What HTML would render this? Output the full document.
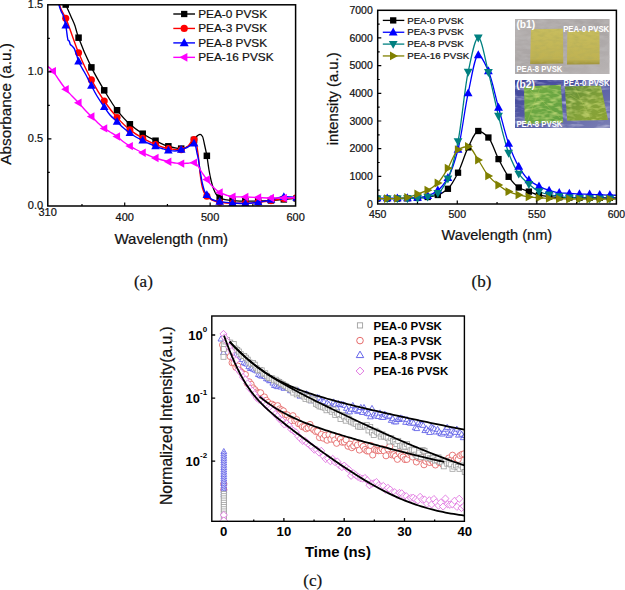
<!DOCTYPE html><html><head><meta charset="utf-8"><style>html,body{margin:0;padding:0;background:#fff;width:625px;height:590px;overflow:hidden}svg{display:block}</style></head><body>
<svg width="625" height="590" viewBox="0 0 625 590">
<defs>
<clipPath id="ca"><rect x="47.8" y="4.8" width="247.8" height="201.2"/></clipPath>
<clipPath id="cb"><rect x="377.7" y="10.3" width="238.7" height="193.7"/></clipPath>
<clipPath id="cc"><rect x="211.8" y="316" width="252.6" height="205.3"/></clipPath>
</defs>
<rect width="625" height="590" fill="#fff"/>
<g clip-path="url(#ca)" fill="none" stroke-linejoin="round">
<path d="M61.5,-4C62.17,-1.41 62.83,0.89 63.5,2C64.23,3.22 64.97,3.35 65.7,4.5C66.2,5.28 66.7,6.85 67.2,8C68.57,11.14 69.93,14.08 71.3,17.2C72.47,19.86 73.63,22.02 74.8,25.3C75.5,27.27 76.2,30.22 76.9,32.5C77.47,34.35 78.03,36.24 78.6,37.8C82.87,49.58 87.13,58.79 91.4,67.4C95.67,76.01 99.93,83.2 104.2,90.3C108.47,97.4 112.73,104.72 117,110.2C121.3,115.72 125.6,120.52 129.9,124.3C134.17,128.05 138.43,131.03 142.7,133.7C146.97,136.37 151.23,138.63 155.5,140.7C159.77,142.77 164.03,145.22 168.3,146.3C172.6,147.39 176.9,148.6 181.2,148.6C183.8,148.6 186.4,147.41 189,146C190.67,145.09 192.33,142.05 194,140C195.17,138.57 196.33,136.35 197.5,135.6C198.4,135.02 199.3,134.4 200.2,134.4C200.97,134.4 201.73,135.35 202.5,136.5C203.2,137.55 203.9,141.93 204.6,145C205.37,148.36 206.13,151.72 206.9,156C207.6,159.91 208.3,166 209,170C209.73,174.2 210.47,178.04 211.2,181C212,184.23 212.8,187.06 213.6,189.1C214.4,191.14 215.2,192.92 216,194C217.23,195.67 218.47,196.91 219.7,197.6C221.47,198.59 223.23,199.24 225,199.6C227.5,200.11 230,200.42 232.5,200.6C236.77,200.91 241.03,201.2 245.3,201.2C249.6,201.2 253.9,201.1 258.2,201C262.47,200.9 266.73,200.65 271,200.4C275.27,200.15 279.53,199.73 283.8,199.4C288.07,199.07 292.33,198.73 296.6,198.4" stroke="#000" stroke-width="1.3"/>
<rect x="49.65" y="-7.25" width="6.5" height="6.5" fill="#000"/>
<rect x="62.48" y="1.32" width="6.5" height="6.5" fill="#000"/>
<rect x="75.31" y="34.43" width="6.5" height="6.5" fill="#000"/>
<rect x="88.14" y="64.13" width="6.5" height="6.5" fill="#000"/>
<rect x="100.97" y="87.08" width="6.5" height="6.5" fill="#000"/>
<rect x="113.8" y="107" width="6.5" height="6.5" fill="#000"/>
<rect x="126.63" y="121.03" width="6.5" height="6.5" fill="#000"/>
<rect x="139.46" y="130.46" width="6.5" height="6.5" fill="#000"/>
<rect x="152.29" y="137.47" width="6.5" height="6.5" fill="#000"/>
<rect x="165.12" y="143.06" width="6.5" height="6.5" fill="#000"/>
<rect x="177.95" y="145.35" width="6.5" height="6.5" fill="#000"/>
<rect x="190.78" y="136.71" width="6.5" height="6.5" fill="#000"/>
<rect x="203.61" y="152.56" width="6.5" height="6.5" fill="#000"/>
<rect x="216.44" y="194.34" width="6.5" height="6.5" fill="#000"/>
<rect x="229.27" y="197.35" width="6.5" height="6.5" fill="#000"/>
<rect x="242.1" y="197.95" width="6.5" height="6.5" fill="#000"/>
<rect x="254.93" y="197.75" width="6.5" height="6.5" fill="#000"/>
<rect x="267.76" y="197.15" width="6.5" height="6.5" fill="#000"/>
<rect x="280.59" y="196.15" width="6.5" height="6.5" fill="#000"/>
<rect x="293.42" y="195.15" width="6.5" height="6.5" fill="#000"/>
<path d="M57.8,-4C58.37,-0.61 58.93,3.14 59.5,5C61.57,11.8 63.63,13.28 65.7,18.1C70,28.14 74.3,42.61 78.6,52.8C82.87,62.91 87.13,71.99 91.4,79.9C95.67,87.81 99.93,94.85 104.2,101C108.47,107.15 112.73,112.69 117,117.4C121.3,122.15 125.6,126.56 129.9,129.9C134.17,133.21 138.43,135.81 142.7,138.2C146.97,140.59 151.23,142.84 155.5,144.5C159.77,146.16 164.03,147.98 168.3,148.6C172.6,149.22 176.9,149.8 181.2,149.8C183.47,149.8 185.73,147.68 188,146C190,144.52 192,139.5 194,139.5C194.67,139.5 195.33,140.64 196,142C196.73,143.5 197.47,149.65 198.2,155C198.93,160.35 199.67,170.77 200.4,176C201.1,180.99 201.8,185.54 202.5,188C203.3,190.81 204.1,192.79 204.9,194C205.57,195.01 206.23,195.59 206.9,196.2C208.6,197.75 210.3,199.25 212,200C214.57,201.13 217.13,201.99 219.7,202.3C223.97,202.81 228.23,203.14 232.5,203.2C236.77,203.26 241.03,203.3 245.3,203.3C249.6,203.3 253.9,202.72 258.2,202.3C262.47,201.88 266.73,201.21 271,200.6C275.27,199.99 279.53,198.98 283.8,198.6C288.07,198.22 292.33,197.87 296.6,197.8" stroke="#f00" stroke-width="1.4"/>
<circle cx="52.9" cy="-4" r="3.55" fill="#f00"/>
<circle cx="65.73" cy="18.18" r="3.55" fill="#f00"/>
<circle cx="78.56" cy="52.69" r="3.55" fill="#f00"/>
<circle cx="91.39" cy="79.88" r="3.55" fill="#f00"/>
<circle cx="104.22" cy="101.03" r="3.55" fill="#f00"/>
<circle cx="117.05" cy="117.45" r="3.55" fill="#f00"/>
<circle cx="129.88" cy="129.88" r="3.55" fill="#f00"/>
<circle cx="142.71" cy="138.2" r="3.55" fill="#f00"/>
<circle cx="155.54" cy="144.51" r="3.55" fill="#f00"/>
<circle cx="168.37" cy="148.61" r="3.55" fill="#f00"/>
<circle cx="181.2" cy="149.8" r="3.55" fill="#f00"/>
<circle cx="194.03" cy="139.54" r="3.55" fill="#f00"/>
<circle cx="206.86" cy="196.16" r="3.55" fill="#f00"/>
<circle cx="219.69" cy="202.3" r="3.55" fill="#f00"/>
<circle cx="232.52" cy="203.2" r="3.55" fill="#f00"/>
<circle cx="245.35" cy="203.3" r="3.55" fill="#f00"/>
<circle cx="258.18" cy="202.3" r="3.55" fill="#f00"/>
<circle cx="271.01" cy="200.6" r="3.55" fill="#f00"/>
<circle cx="283.84" cy="198.6" r="3.55" fill="#f00"/>
<circle cx="296.67" cy="197.8" r="3.55" fill="#f00"/>
<path d="M57.3,-4C57.87,-0.4 58.43,2.81 59,5C59.67,7.57 60.33,9.4 61,11C61.67,12.6 62.33,13.28 63,15C63.9,17.32 64.8,20.72 65.7,25.2C66,26.69 66.3,28.92 66.6,31C66.87,32.85 67.13,35.42 67.4,37C67.6,38.19 67.8,39.69 68,40C68.4,40.62 68.8,40.47 69.2,41C69.57,41.49 69.93,44.01 70.3,44.5C70.7,45.03 71.1,45.14 71.5,45.5C72,45.95 72.5,46.43 73,47C73.43,47.49 73.87,47.93 74.3,48.7C74.7,49.41 75.1,50.91 75.5,52C75.93,53.18 76.37,54.21 76.8,55.5C77.4,57.29 78,60.1 78.6,61.6C79.73,64.43 80.87,65.94 82,68C83.33,70.42 84.67,72.53 86,75C87.8,78.34 89.6,82.27 91.4,85.7C93.27,89.26 95.13,92.87 97,96C99.4,100.02 101.8,103.53 104.2,107C106.13,109.8 108.07,112.82 110,115C112.33,117.63 114.67,119.35 117,121.6C119,123.53 121,125.73 123,127.5C125.3,129.53 127.6,131.35 129.9,133C131.93,134.46 133.97,135.85 136,137C138.23,138.26 140.47,139.18 142.7,140.3C144.8,141.35 146.9,142.56 149,143.5C151.17,144.47 153.33,145.27 155.5,146.1C157.67,146.93 159.83,147.8 162,148.5C164.1,149.18 166.2,149.98 168.3,150.3C170.53,150.64 172.77,151 175,151C177.07,151 179.13,150.26 181.2,149.7C183.13,149.18 185.07,148.38 187,147.5C189.33,146.43 191.67,143.4 194,143.4C194.6,143.4 195.2,145.24 195.8,147C196.2,148.18 196.6,151.11 197,153C197.4,154.89 197.8,156.31 198.2,158.4C198.8,161.54 199.4,166.39 200,170C200.83,175.01 201.67,180.44 202.5,184C203.17,186.85 203.83,189.5 204.5,191C205.3,192.8 206.1,193.94 206.9,194.9C208.6,196.94 210.3,198.76 212,199.5C214.57,200.62 217.13,201.18 219.7,201.6C223.97,202.29 228.23,202.75 232.5,203C236.77,203.25 241.03,203.5 245.3,203.5C249.6,203.5 253.9,202.77 258.2,202.2C262.47,201.63 266.73,200.6 271,199.7C275.27,198.8 279.53,196.8 283.8,196.8C288.07,196.8 292.33,196.8 296.6,197.6" stroke="#00f" stroke-width="1.4"/>
<path d="M52.9,-8.64 L57.2,-0.9 L48.6,-0.9 Z" fill="#00f"/>
<path d="M65.73,20.75 L70.03,28.49 L61.43,28.49 Z" fill="#00f"/>
<path d="M78.56,56.82 L82.86,64.56 L74.26,64.56 Z" fill="#00f"/>
<path d="M91.39,81.04 L95.69,88.78 L87.09,88.78 Z" fill="#00f"/>
<path d="M104.22,102.38 L108.52,110.12 L99.92,110.12 Z" fill="#00f"/>
<path d="M117.05,117.01 L121.35,124.75 L112.75,124.75 Z" fill="#00f"/>
<path d="M129.88,128.34 L134.18,136.08 L125.58,136.08 Z" fill="#00f"/>
<path d="M142.71,135.66 L147.01,143.4 L138.41,143.4 Z" fill="#00f"/>
<path d="M155.54,141.47 L159.84,149.21 L151.24,149.21 Z" fill="#00f"/>
<path d="M168.37,145.66 L172.67,153.4 L164.07,153.4 Z" fill="#00f"/>
<path d="M181.2,145.06 L185.5,152.8 L176.9,152.8 Z" fill="#00f"/>
<path d="M194.03,138.82 L198.33,146.56 L189.73,146.56 Z" fill="#00f"/>
<path d="M206.86,190.19 L211.16,197.93 L202.56,197.93 Z" fill="#00f"/>
<path d="M219.69,196.95 L223.99,204.69 L215.39,204.69 Z" fill="#00f"/>
<path d="M232.52,198.36 L236.82,206.1 L228.22,206.1 Z" fill="#00f"/>
<path d="M245.35,198.85 L249.65,206.59 L241.05,206.59 Z" fill="#00f"/>
<path d="M258.18,197.56 L262.48,205.3 L253.88,205.3 Z" fill="#00f"/>
<path d="M271.01,195.05 L275.31,202.79 L266.71,202.79 Z" fill="#00f"/>
<path d="M283.84,192.16 L288.14,199.9 L279.54,199.9 Z" fill="#00f"/>
<path d="M296.67,192.96 L300.97,200.7 L292.37,200.7 Z" fill="#00f"/>
<path d="M47.8,66.4C49.5,67.55 51.2,69.19 52.9,71.1C54.93,73.38 56.97,77.12 59,80C61.23,83.16 63.47,86.5 65.7,89.2C67.8,91.74 69.9,93.79 72,96C74.2,98.32 76.4,100.43 78.6,102.8C80.73,105.1 82.87,107.72 85,110C87.13,112.28 89.27,114.37 91.4,116.5C93.43,118.53 95.47,120.61 97.5,122.5C99.73,124.58 101.97,126.78 104.2,128.4C106.13,129.8 108.07,130.78 110,132C112.33,133.47 114.67,134.8 117,136.5C119,137.96 121,140.01 123,141.5C125.3,143.21 127.6,144.71 129.9,146.1C131.93,147.33 133.97,148.44 136,149.5C138.23,150.67 140.47,151.78 142.7,152.8C144.8,153.76 146.9,154.65 149,155.5C151.17,156.38 153.33,157.26 155.5,158C157.67,158.74 159.83,159.38 162,160C164.1,160.6 166.2,161.23 168.3,161.7C170.53,162.21 172.77,162.71 175,163C177.07,163.27 179.13,163.6 181.2,163.6C183.47,163.6 185.73,163.37 188,163.2C190,163.05 192,162.6 194,162.6C195.33,162.6 196.67,164.48 198,166C199,167.14 200,169.42 201,171C202,172.58 203,174.04 204,175.5C204.97,176.91 205.93,178.33 206.9,179.6C208.93,182.28 210.97,185.02 213,187C215.23,189.17 217.47,191.18 219.7,192.4C221.8,193.54 223.9,194.35 226,195C228.17,195.67 230.33,196.47 232.5,196.6C236.77,196.86 241.03,196.85 245.3,197C249.6,197.15 253.9,197.33 258.2,197.5C262.47,197.67 266.73,198 271,198C275.27,198 279.53,198 283.8,198C288.07,198 292.33,197.75 296.6,197.5" stroke="#f0f" stroke-width="1.4"/>
<path d="M48.36,71.1 L55.92,66.9 L55.92,75.3 Z" fill="#f0f"/>
<path d="M61.19,89.23 L68.75,85.03 L68.75,93.43 Z" fill="#f0f"/>
<path d="M74.02,102.76 L81.58,98.56 L81.58,106.96 Z" fill="#f0f"/>
<path d="M86.85,116.49 L94.41,112.29 L94.41,120.69 Z" fill="#f0f"/>
<path d="M99.68,128.41 L107.24,124.21 L107.24,132.61 Z" fill="#f0f"/>
<path d="M112.51,136.54 L120.07,132.34 L120.07,140.74 Z" fill="#f0f"/>
<path d="M125.34,146.09 L132.9,141.89 L132.9,150.29 Z" fill="#f0f"/>
<path d="M138.17,152.8 L145.73,148.6 L145.73,157 Z" fill="#f0f"/>
<path d="M151,158.01 L158.56,153.81 L158.56,162.21 Z" fill="#f0f"/>
<path d="M163.83,161.71 L171.39,157.51 L171.39,165.91 Z" fill="#f0f"/>
<path d="M176.66,163.6 L184.22,159.4 L184.22,167.8 Z" fill="#f0f"/>
<path d="M189.49,162.63 L197.05,158.43 L197.05,166.83 Z" fill="#f0f"/>
<path d="M202.32,179.54 L209.88,175.34 L209.88,183.74 Z" fill="#f0f"/>
<path d="M215.15,192.39 L222.71,188.19 L222.71,196.59 Z" fill="#f0f"/>
<path d="M227.98,196.6 L235.54,192.4 L235.54,200.8 Z" fill="#f0f"/>
<path d="M240.81,197 L248.37,192.8 L248.37,201.2 Z" fill="#f0f"/>
<path d="M253.64,197.5 L261.2,193.3 L261.2,201.7 Z" fill="#f0f"/>
<path d="M266.47,198 L274.03,193.8 L274.03,202.2 Z" fill="#f0f"/>
<path d="M279.3,198 L286.86,193.8 L286.86,202.2 Z" fill="#f0f"/>
<path d="M292.13,197.5 L299.69,193.3 L299.69,201.7 Z" fill="#f0f"/>
</g>
<rect x="47.8" y="4.8" width="247.8" height="201.2" fill="none" stroke="#000" stroke-width="1.5"/>
<path d="M124.7,206 v-3.6 M210.15,206 v-3.6 M81.98,206 v-2 M167.43,206 v-2 M252.88,206 v-2 M47.8,138.93 h3.6 M47.8,71.87 h3.6 M47.8,172.47 h2 M47.8,105.4 h2 M47.8,38.33 h2" stroke="#000" stroke-width="1.2" fill="none"/>
<g font-family='"Liberation Sans", sans-serif' font-size="11" fill="#111" stroke="#111" stroke-width="0.22">
<text x="43.1" y="8.1" text-anchor="end">1.5</text>
<text x="43.1" y="75.17" text-anchor="end">1.0</text>
<text x="43.1" y="142.23" text-anchor="end">0.5</text>
<text x="43.1" y="209.3" text-anchor="end">0.0</text>
<text x="47.6" y="216.3" text-anchor="middle">310</text>
<text x="124.7" y="220.9" text-anchor="middle">400</text>
<text x="210.15" y="220.9" text-anchor="middle">500</text>
<text x="295.6" y="220.9" text-anchor="middle">600</text>
</g>
<text x="171.3" y="243.6" text-anchor="middle" font-family='"Liberation Sans", sans-serif' font-size="15" fill="#111" stroke="#111" stroke-width="0.22">Wavelength (nm)</text>
<text transform="translate(11.3,103.9) rotate(-90)" text-anchor="middle" font-family='"Liberation Sans", sans-serif' font-size="15.3" fill="#111" stroke="#111" stroke-width="0.22">Absorbance (a.u.)</text>
<path d="M173.3,14 H195" stroke="#000" stroke-width="1.4"/>
<rect x="181.05" y="10.85" width="6.3" height="6.3" fill="#000"/>
<text x="198.2" y="17.9" font-family='"Liberation Sans", sans-serif' font-size="11.8" fill="#111" stroke="#111" stroke-width="0.22">PEA-0 PVSK</text>
<path d="M173.3,28.45 H195" stroke="#f00" stroke-width="1.4"/>
<circle cx="184.2" cy="28.45" r="3.6" fill="#f00"/>
<text x="198.2" y="32.35" font-family='"Liberation Sans", sans-serif' font-size="11.8" fill="#111" stroke="#111" stroke-width="0.22">PEA-3 PVSK</text>
<path d="M173.3,42.9 H195" stroke="#00f" stroke-width="1.4"/>
<path d="M184.2,38.04 L188.7,46.14 L179.7,46.14 Z" fill="#00f"/>
<text x="198.2" y="46.8" font-family='"Liberation Sans", sans-serif' font-size="11.8" fill="#111" stroke="#111" stroke-width="0.22">PEA-8 PVSK</text>
<path d="M173.3,57.35 H195" stroke="#f0f" stroke-width="1.4"/>
<path d="M179.45,57.35 L187.37,52.95 L187.37,61.75 Z" fill="#f0f"/>
<text x="198.2" y="61.25" font-family='"Liberation Sans", sans-serif' font-size="11.8" fill="#111" stroke="#111" stroke-width="0.22">PEA-16 PVSK</text>
<g clip-path="url(#cb)" fill="none" stroke-linejoin="round">
<path d="M366.96,198.6C370.33,198.6 373.71,198.6 377.08,198.6C380.45,198.6 383.83,198.6 387.2,198.6C390.57,198.6 393.95,198.6 397.32,198.6C400.69,198.6 404.07,198.41 407.44,198.3C410.81,198.19 414.19,198.08 417.56,197.9C420.93,197.72 424.31,197.41 427.68,197C431.05,196.59 434.43,196.01 437.8,195C441.17,193.99 444.55,191.78 447.92,188.8C451.29,185.82 454.67,179.26 458.04,172.7C461.41,166.14 464.79,154.03 468.16,147.4C471.53,140.77 474.91,131 478.28,131C481.65,131 485.03,134.17 488.4,137.5C491.77,140.83 495.15,152.61 498.52,159.1C501.89,165.59 505.27,172.35 508.64,176.8C512.01,181.25 515.39,185.52 518.76,187.5C522.13,189.48 525.51,190.32 528.88,191.6C532.25,192.88 535.63,194.53 539,195.2C542.37,195.87 545.75,196.29 549.12,196.6C552.49,196.91 555.87,197.16 559.24,197.3C562.61,197.44 565.99,197.52 569.36,197.6C572.73,197.68 576.11,197.8 579.48,197.8C582.85,197.8 586.23,197.8 589.6,197.8C592.97,197.8 596.35,197.8 599.72,197.8C603.09,197.8 606.47,197.8 609.84,197.8C613.21,197.8 616.59,197.8 619.96,197.8" stroke="#000" stroke-width="1.3"/>
<path d="M366.96,198.2C370.33,198.2 373.71,198.2 377.08,198.2C380.45,198.2 383.83,198.2 387.2,198.2C390.57,198.2 393.95,198.2 397.32,198.2C400.69,198.2 404.07,198.16 407.44,198.1C410.81,198.04 414.19,197.86 417.56,197.6C420.93,197.34 424.31,196.71 427.68,195.8C431.05,194.89 434.43,192.77 437.8,190.2C441.17,187.63 444.55,183.55 447.92,177.8C451.29,172.05 454.67,162.06 458.04,149.5C461.41,136.94 464.79,108.37 468.16,93.2C471.53,78.03 474.91,55 478.28,55C481.65,55 485.03,63.66 488.4,71.1C491.77,78.54 495.15,95.4 498.52,107.5C501.89,119.6 505.27,134.35 508.64,143.7C512.01,153.05 515.39,160.94 518.76,166.6C522.13,172.26 525.51,177.27 528.88,180.1C532.25,182.93 535.63,184.65 539,186.3C542.37,187.95 545.75,189.39 549.12,190.4C552.49,191.41 555.87,192.48 559.24,192.8C562.61,193.12 565.99,193.18 569.36,193.4C572.73,193.62 576.11,194 579.48,194.1C582.85,194.2 586.23,194.21 589.6,194.3C592.97,194.39 596.35,194.57 599.72,194.7C603.09,194.83 606.47,195.01 609.84,195.1C613.21,195.19 616.59,195.27 619.96,195.3" stroke="#00f" stroke-width="1.3"/>
<path d="M366.96,198.6C370.33,198.6 373.71,198.6 377.08,198.6C380.45,198.6 383.83,198.6 387.2,198.6C390.57,198.6 393.95,198.6 397.32,198.6C400.69,198.6 404.07,198.55 407.44,198.5C410.81,198.45 414.19,198.36 417.56,198.2C420.93,198.04 424.31,197.48 427.68,196.8C431.05,196.12 434.43,195.06 437.8,193.1C441.17,191.14 444.55,185.63 447.92,178.7C451.29,171.77 454.67,157.5 458.04,141.3C461.41,125.1 464.79,87.17 468.16,71.9C471.53,56.63 474.91,37.7 478.28,37.7C481.65,37.7 485.03,59.33 488.4,72.2C491.77,85.07 495.15,102.63 498.52,116C501.89,129.37 505.27,144.12 508.64,153C512.01,161.88 515.39,169.18 518.76,173.8C522.13,178.42 525.51,181.34 528.88,184.2C532.25,187.06 535.63,190.05 539,191.5C542.37,192.95 545.75,193.87 549.12,194.6C552.49,195.33 555.87,195.81 559.24,196.3C562.61,196.79 565.99,197.33 569.36,197.6C572.73,197.87 576.11,198.07 579.48,198.2C582.85,198.33 586.23,198.45 589.6,198.5C592.97,198.55 596.35,198.57 599.72,198.6C603.09,198.63 606.47,198.7 609.84,198.7C613.21,198.7 616.59,198.7 619.96,198.7" stroke="#008080" stroke-width="1.3"/>
<path d="M366.96,198.6C370.33,198.6 373.71,198.6 377.08,198.6C380.45,198.6 383.83,198.6 387.2,198.6C390.57,198.6 393.95,198.51 397.32,198.4C400.69,198.29 404.07,197.85 407.44,197.3C410.81,196.75 414.19,195.18 417.56,194C420.93,192.82 424.31,191.86 427.68,190.2C431.05,188.54 434.43,186.23 437.8,183C441.17,179.77 444.55,173.68 447.92,168.2C451.29,162.72 454.67,151.52 458.04,149.7C461.41,147.88 464.79,146.5 468.16,146.5C471.53,146.5 474.91,155.13 478.28,160C481.65,164.87 485.03,172.04 488.4,175.9C491.77,179.76 495.15,182.45 498.52,185C501.89,187.55 505.27,190.13 508.64,191.6C512.01,193.07 515.39,194.07 518.76,194.9C522.13,195.73 525.51,196.49 528.88,196.9C532.25,197.31 535.63,197.56 539,197.8C542.37,198.04 545.75,198.24 549.12,198.4C552.49,198.56 555.87,198.71 559.24,198.8C562.61,198.89 565.99,198.96 569.36,199C572.73,199.04 576.11,199.07 579.48,199.1C582.85,199.13 586.23,199.2 589.6,199.2C592.97,199.2 596.35,199.2 599.72,199.2C603.09,199.2 606.47,199.2 609.84,199.2C613.21,199.2 616.59,199.2 619.96,199.2" stroke="#808000" stroke-width="1.3"/>
<rect x="373.93" y="195.45" width="6.3" height="6.3" fill="#000"/>
<rect x="384.05" y="195.45" width="6.3" height="6.3" fill="#000"/>
<rect x="394.17" y="195.45" width="6.3" height="6.3" fill="#000"/>
<rect x="404.29" y="195.15" width="6.3" height="6.3" fill="#000"/>
<rect x="414.41" y="194.75" width="6.3" height="6.3" fill="#000"/>
<rect x="424.53" y="193.85" width="6.3" height="6.3" fill="#000"/>
<rect x="434.65" y="191.85" width="6.3" height="6.3" fill="#000"/>
<rect x="444.77" y="185.65" width="6.3" height="6.3" fill="#000"/>
<rect x="454.89" y="169.55" width="6.3" height="6.3" fill="#000"/>
<rect x="465.01" y="144.25" width="6.3" height="6.3" fill="#000"/>
<rect x="475.13" y="127.85" width="6.3" height="6.3" fill="#000"/>
<rect x="485.25" y="134.35" width="6.3" height="6.3" fill="#000"/>
<rect x="495.37" y="155.95" width="6.3" height="6.3" fill="#000"/>
<rect x="505.49" y="173.65" width="6.3" height="6.3" fill="#000"/>
<rect x="515.61" y="184.35" width="6.3" height="6.3" fill="#000"/>
<rect x="525.73" y="188.45" width="6.3" height="6.3" fill="#000"/>
<rect x="535.85" y="192.05" width="6.3" height="6.3" fill="#000"/>
<rect x="545.97" y="193.45" width="6.3" height="6.3" fill="#000"/>
<rect x="556.09" y="194.15" width="6.3" height="6.3" fill="#000"/>
<rect x="566.21" y="194.45" width="6.3" height="6.3" fill="#000"/>
<rect x="576.33" y="194.65" width="6.3" height="6.3" fill="#000"/>
<rect x="586.45" y="194.65" width="6.3" height="6.3" fill="#000"/>
<rect x="596.57" y="194.65" width="6.3" height="6.3" fill="#000"/>
<rect x="606.69" y="194.65" width="6.3" height="6.3" fill="#000"/>
<rect x="616.81" y="194.65" width="6.3" height="6.3" fill="#000"/>
<path d="M377.08,193.45 L381.48,201.37 L372.68,201.37 Z" fill="#00f"/>
<path d="M387.2,193.45 L391.6,201.37 L382.8,201.37 Z" fill="#00f"/>
<path d="M397.32,193.45 L401.72,201.37 L392.92,201.37 Z" fill="#00f"/>
<path d="M407.44,193.35 L411.84,201.27 L403.04,201.27 Z" fill="#00f"/>
<path d="M417.56,192.85 L421.96,200.77 L413.16,200.77 Z" fill="#00f"/>
<path d="M427.68,191.05 L432.08,198.97 L423.28,198.97 Z" fill="#00f"/>
<path d="M437.8,185.45 L442.2,193.37 L433.4,193.37 Z" fill="#00f"/>
<path d="M447.92,173.05 L452.32,180.97 L443.52,180.97 Z" fill="#00f"/>
<path d="M458.04,144.75 L462.44,152.67 L453.64,152.67 Z" fill="#00f"/>
<path d="M468.16,88.45 L472.56,96.37 L463.76,96.37 Z" fill="#00f"/>
<path d="M478.28,50.25 L482.68,58.17 L473.88,58.17 Z" fill="#00f"/>
<path d="M488.4,66.35 L492.8,74.27 L484,74.27 Z" fill="#00f"/>
<path d="M498.52,102.75 L502.92,110.67 L494.12,110.67 Z" fill="#00f"/>
<path d="M508.64,138.95 L513.04,146.87 L504.24,146.87 Z" fill="#00f"/>
<path d="M518.76,161.85 L523.16,169.77 L514.36,169.77 Z" fill="#00f"/>
<path d="M528.88,175.35 L533.28,183.27 L524.48,183.27 Z" fill="#00f"/>
<path d="M539,181.55 L543.4,189.47 L534.6,189.47 Z" fill="#00f"/>
<path d="M549.12,185.65 L553.52,193.57 L544.72,193.57 Z" fill="#00f"/>
<path d="M559.24,188.05 L563.64,195.97 L554.84,195.97 Z" fill="#00f"/>
<path d="M569.36,188.65 L573.76,196.57 L564.96,196.57 Z" fill="#00f"/>
<path d="M579.48,189.35 L583.88,197.27 L575.08,197.27 Z" fill="#00f"/>
<path d="M589.6,189.55 L594,197.47 L585.2,197.47 Z" fill="#00f"/>
<path d="M599.72,189.95 L604.12,197.87 L595.32,197.87 Z" fill="#00f"/>
<path d="M609.84,190.35 L614.24,198.27 L605.44,198.27 Z" fill="#00f"/>
<path d="M619.96,190.55 L624.36,198.47 L615.56,198.47 Z" fill="#00f"/>
<path d="M377.08,203.35 L381.48,195.43 L372.68,195.43 Z" fill="#008080"/>
<path d="M387.2,203.35 L391.6,195.43 L382.8,195.43 Z" fill="#008080"/>
<path d="M397.32,203.35 L401.72,195.43 L392.92,195.43 Z" fill="#008080"/>
<path d="M407.44,203.25 L411.84,195.33 L403.04,195.33 Z" fill="#008080"/>
<path d="M417.56,202.95 L421.96,195.03 L413.16,195.03 Z" fill="#008080"/>
<path d="M427.68,201.55 L432.08,193.63 L423.28,193.63 Z" fill="#008080"/>
<path d="M437.8,197.85 L442.2,189.93 L433.4,189.93 Z" fill="#008080"/>
<path d="M447.92,183.45 L452.32,175.53 L443.52,175.53 Z" fill="#008080"/>
<path d="M458.04,146.05 L462.44,138.13 L453.64,138.13 Z" fill="#008080"/>
<path d="M468.16,76.65 L472.56,68.73 L463.76,68.73 Z" fill="#008080"/>
<path d="M478.28,42.45 L482.68,34.53 L473.88,34.53 Z" fill="#008080"/>
<path d="M488.4,76.95 L492.8,69.03 L484,69.03 Z" fill="#008080"/>
<path d="M498.52,120.75 L502.92,112.83 L494.12,112.83 Z" fill="#008080"/>
<path d="M508.64,157.75 L513.04,149.83 L504.24,149.83 Z" fill="#008080"/>
<path d="M518.76,178.55 L523.16,170.63 L514.36,170.63 Z" fill="#008080"/>
<path d="M528.88,188.95 L533.28,181.03 L524.48,181.03 Z" fill="#008080"/>
<path d="M539,196.25 L543.4,188.33 L534.6,188.33 Z" fill="#008080"/>
<path d="M549.12,199.35 L553.52,191.43 L544.72,191.43 Z" fill="#008080"/>
<path d="M559.24,201.05 L563.64,193.13 L554.84,193.13 Z" fill="#008080"/>
<path d="M569.36,202.35 L573.76,194.43 L564.96,194.43 Z" fill="#008080"/>
<path d="M579.48,202.95 L583.88,195.03 L575.08,195.03 Z" fill="#008080"/>
<path d="M589.6,203.25 L594,195.33 L585.2,195.33 Z" fill="#008080"/>
<path d="M599.72,203.35 L604.12,195.43 L595.32,195.43 Z" fill="#008080"/>
<path d="M609.84,203.45 L614.24,195.53 L605.44,195.53 Z" fill="#008080"/>
<path d="M619.96,203.45 L624.36,195.53 L615.56,195.53 Z" fill="#008080"/>
<path d="M381.83,198.6 L373.91,194.2 L373.91,203 Z" fill="#808000"/>
<path d="M391.95,198.6 L384.03,194.2 L384.03,203 Z" fill="#808000"/>
<path d="M402.07,198.4 L394.15,194 L394.15,202.8 Z" fill="#808000"/>
<path d="M412.19,197.3 L404.27,192.9 L404.27,201.7 Z" fill="#808000"/>
<path d="M422.31,194 L414.39,189.6 L414.39,198.4 Z" fill="#808000"/>
<path d="M432.43,190.2 L424.51,185.8 L424.51,194.6 Z" fill="#808000"/>
<path d="M442.55,183 L434.63,178.6 L434.63,187.4 Z" fill="#808000"/>
<path d="M452.67,168.2 L444.75,163.8 L444.75,172.6 Z" fill="#808000"/>
<path d="M462.79,149.7 L454.87,145.3 L454.87,154.1 Z" fill="#808000"/>
<path d="M472.91,146.5 L464.99,142.1 L464.99,150.9 Z" fill="#808000"/>
<path d="M483.03,160 L475.11,155.6 L475.11,164.4 Z" fill="#808000"/>
<path d="M493.15,175.9 L485.23,171.5 L485.23,180.3 Z" fill="#808000"/>
<path d="M503.27,185 L495.35,180.6 L495.35,189.4 Z" fill="#808000"/>
<path d="M513.39,191.6 L505.47,187.2 L505.47,196 Z" fill="#808000"/>
<path d="M523.51,194.9 L515.59,190.5 L515.59,199.3 Z" fill="#808000"/>
<path d="M533.63,196.9 L525.71,192.5 L525.71,201.3 Z" fill="#808000"/>
<path d="M543.75,197.8 L535.83,193.4 L535.83,202.2 Z" fill="#808000"/>
<path d="M553.87,198.4 L545.95,194 L545.95,202.8 Z" fill="#808000"/>
<path d="M563.99,198.8 L556.07,194.4 L556.07,203.2 Z" fill="#808000"/>
<path d="M574.11,199 L566.19,194.6 L566.19,203.4 Z" fill="#808000"/>
<path d="M584.23,199.1 L576.31,194.7 L576.31,203.5 Z" fill="#808000"/>
<path d="M594.35,199.2 L586.43,194.8 L586.43,203.6 Z" fill="#808000"/>
<path d="M604.47,199.2 L596.55,194.8 L596.55,203.6 Z" fill="#808000"/>
<path d="M614.59,199.2 L606.67,194.8 L606.67,203.6 Z" fill="#808000"/>
<path d="M624.71,199.2 L616.79,194.8 L616.79,203.6 Z" fill="#808000"/>
</g>
<rect x="377.7" y="10.3" width="238.7" height="193.7" fill="none" stroke="#000" stroke-width="1.5"/>
<path d="M457.27,204 v-3.6 M536.83,204 v-3.6 M417.48,204 v-2 M497.05,204 v-2 M576.62,204 v-2 M377.7,176.33 h3.6 M377.7,148.66 h3.6 M377.7,120.99 h3.6 M377.7,93.31 h3.6 M377.7,65.64 h3.6 M377.7,37.97 h3.6 M377.7,190.16 h2 M377.7,162.49 h2 M377.7,134.82 h2 M377.7,107.15 h2 M377.7,79.48 h2 M377.7,51.81 h2 M377.7,24.14 h2" stroke="#000" stroke-width="1.2" fill="none"/>
<g font-family='"Liberation Sans", sans-serif' font-size="10.5" fill="#111" stroke="#111" stroke-width="0.22">
<text x="372.8" y="207.7" text-anchor="end">0</text>
<text x="372.8" y="180.03" text-anchor="end">1000</text>
<text x="372.8" y="152.36" text-anchor="end">2000</text>
<text x="372.8" y="124.69" text-anchor="end">3000</text>
<text x="372.8" y="97.01" text-anchor="end">4000</text>
<text x="372.8" y="69.34" text-anchor="end">5000</text>
<text x="372.8" y="41.67" text-anchor="end">6000</text>
<text x="372.8" y="14" text-anchor="end">7000</text>
<text x="377.7" y="218" text-anchor="middle">450</text>
<text x="457.27" y="218" text-anchor="middle">500</text>
<text x="536.83" y="218" text-anchor="middle">550</text>
<text x="616.4" y="218" text-anchor="middle">600</text>
</g>
<text x="496.9" y="239.5" text-anchor="middle" font-family='"Liberation Sans", sans-serif' font-size="14.6" fill="#111" stroke="#111" stroke-width="0.22">Wavelength (nm)</text>
<text transform="translate(338.4,98.9) rotate(-90)" text-anchor="middle" font-family='"Liberation Sans", sans-serif' font-size="14.8" fill="#111" stroke="#111" stroke-width="0.22">intensity (a.u.)</text>
<path d="M382.8,20.4 H404.3" stroke="#000" stroke-width="1.3"/>
<rect x="390.05" y="17.25" width="6.3" height="6.3" fill="#000"/>
<text x="407.2" y="23.5" font-family='"Liberation Sans", sans-serif' font-size="9.7" fill="#111" stroke="#111" stroke-width="0.22">PEA-0 PVSK</text>
<path d="M382.8,32.25 H404.3" stroke="#00f" stroke-width="1.3"/>
<path d="M393.2,27.5 L397.6,35.42 L388.8,35.42 Z" fill="#00f"/>
<text x="407.2" y="35.35" font-family='"Liberation Sans", sans-serif' font-size="9.7" fill="#111" stroke="#111" stroke-width="0.22">PEA-3 PVSK</text>
<path d="M382.8,44.1 H404.3" stroke="#008080" stroke-width="1.3"/>
<path d="M393.2,48.85 L397.6,40.93 L388.8,40.93 Z" fill="#008080"/>
<text x="407.2" y="47.2" font-family='"Liberation Sans", sans-serif' font-size="9.7" fill="#111" stroke="#111" stroke-width="0.22">PEA-8 PVSK</text>
<path d="M382.8,55.95 H404.3" stroke="#808000" stroke-width="1.3"/>
<path d="M397.95,55.95 L390.03,51.55 L390.03,60.35 Z" fill="#808000"/>
<text x="407.2" y="59.05" font-family='"Liberation Sans", sans-serif' font-size="9.7" fill="#111" stroke="#111" stroke-width="0.22">PEA-16 PVSK</text>
<defs>
<filter id="tx1" x="0" y="0" width="1" height="1"><feTurbulence type="fractalNoise" baseFrequency="0.09 0.25" numOctaves="3" seed="3" result="n"/><feColorMatrix in="n" type="matrix" values="0 0 0 0 0.5  0 0 0 0 0.48  0 0 0 0 0.48  1.6 0 0 0 -0.55" result="m"/><feComposite in="m" in2="SourceGraphic" operator="in"/></filter>
<filter id="tx2" x="0" y="0" width="1" height="1"><feTurbulence type="fractalNoise" baseFrequency="0.06 0.2" numOctaves="3" seed="8" result="n"/><feColorMatrix in="n" type="matrix" values="0 0 0 0 0.8  0 0 0 0 0.8  0 0 0 0 0.92  1.5 0 0 0 -0.68" result="m"/><feComposite in="m" in2="SourceGraphic" operator="in"/></filter>
<filter id="tx3" x="0" y="0" width="1" height="1"><feTurbulence type="fractalNoise" baseFrequency="0.15 0.35" numOctaves="2" seed="5" result="n"/><feColorMatrix in="n" type="matrix" values="0 0 0 0 0.45  0 0 0 0 0.42  0 0 0 0 0.1  1.4 0 0 0 -0.55" result="m"/><feComposite in="m" in2="SourceGraphic" operator="in"/></filter>
<filter id="tx4" x="0" y="0" width="1" height="1"><feTurbulence type="fractalNoise" baseFrequency="0.12 0.3" numOctaves="2" seed="9" result="n"/><feColorMatrix in="n" type="matrix" values="0 0 0 0 0.85  0 0 0 0 0.9  0 0 0 0 0.3  1.6 0 0 0 -0.7" result="m"/><feComposite in="m" in2="SourceGraphic" operator="in"/></filter>
<linearGradient id="g1" x1="0" y1="0" x2="1" y2="1"><stop offset="0" stop-color="#b4afae"/><stop offset="0.5" stop-color="#a8a3a3"/><stop offset="1" stop-color="#b8b3b3"/></linearGradient>
<linearGradient id="y1" x1="0" y1="0" x2="0" y2="1"><stop offset="0" stop-color="#c8bd5e"/><stop offset="0.85" stop-color="#bfb252"/><stop offset="1" stop-color="#9e923c"/></linearGradient>
<linearGradient id="g2" x1="0" y1="0" x2="1" y2="1"><stop offset="0" stop-color="#3f449a"/><stop offset="0.5" stop-color="#585ea6"/><stop offset="1" stop-color="#7c80b4"/></linearGradient>
<linearGradient id="gr1" x1="0" y1="0" x2="1" y2="1"><stop offset="0" stop-color="#74ac44"/><stop offset="1" stop-color="#62a040"/></linearGradient>
<linearGradient id="gr2" x1="0" y1="0" x2="1" y2="1"><stop offset="0" stop-color="#5f8a34"/><stop offset="0.6" stop-color="#84a23a"/><stop offset="1" stop-color="#8aa232"/></linearGradient>
</defs>
<rect x="515" y="19" width="94.5" height="55" fill="url(#g1)"/>
<rect x="515" y="19" width="94.5" height="55" fill="#fff" filter="url(#tx1)"/>
<path d="M531,29.2 L563,28.8 L563.2,63.5 L530.2,64 Z" fill="url(#y1)"/>
<path d="M567.4,31 L599.4,30.8 L599.6,64.2 L567,64.4 Z" fill="url(#y1)"/>
<path d="M531,29.2 L563,28.8 L563.2,63.5 L530.2,64 Z" fill="#fff" filter="url(#tx3)"/>
<path d="M567.4,31 L599.4,30.8 L599.6,64.2 L567,64.4 Z" fill="#fff" filter="url(#tx3)"/>
<g font-family='"Liberation Sans", sans-serif' font-weight="bold" fill="#fff">
<text x="516.4" y="27.6" font-size="10.2">(b1)</text>
<text x="609.2" y="32" font-size="8.4" text-anchor="end" textLength="46" lengthAdjust="spacingAndGlyphs">PEA-0 PVSK</text>
<text x="516.4" y="72" font-size="8.4" textLength="46" lengthAdjust="spacingAndGlyphs">PEA-8 PVSK</text>
</g>
<rect x="515" y="80" width="95" height="48" fill="url(#g2)"/>
<rect x="515" y="80" width="95" height="48" fill="#fff" filter="url(#tx2)"/>
<path d="M524,86.4 L560.8,84.8 L563.2,122.4 L524.8,124 Z" fill="url(#gr1)"/>
<path d="M564.8,86.4 L600.8,85.6 L608,120 L567.2,120.8 Z" fill="url(#gr2)"/>
<path d="M524,86.4 L560.8,84.8 L563.2,122.4 L524.8,124 Z" fill="#fff" filter="url(#tx4)"/>
<path d="M564.8,86.4 L600.8,85.6 L608,120 L567.2,120.8 Z" fill="#fff" filter="url(#tx4)"/>
<path d="M530,90 L560,118" stroke="#b8d060" stroke-width="0.7" opacity="0.45"/>
<path d="M540,88 L528,120" stroke="#b8d060" stroke-width="0.7" opacity="0.45"/>
<path d="M570,95 L600,112" stroke="#b8d060" stroke-width="0.7" opacity="0.45"/>
<path d="M580,110 L604,100" stroke="#b8d060" stroke-width="0.7" opacity="0.45"/>
<path d="M575,88 L590,118" stroke="#b8d060" stroke-width="0.7" opacity="0.45"/>
<g font-family='"Liberation Sans", sans-serif' font-weight="bold" fill="#fff">
<text x="516.2" y="87.6" font-size="10.2">(b2)</text>
<text x="609.6" y="86.2" font-size="8.4" text-anchor="end" textLength="46" lengthAdjust="spacingAndGlyphs">PEA-0 PVSK</text>
<text x="516.4" y="126.5" font-size="8.4" textLength="46" lengthAdjust="spacingAndGlyphs">PEA-8 PVSK</text>
</g>
<g clip-path="url(#cc)" fill="#fff" stroke-width="0.8">
<circle cx="222.6" cy="345" r="3.1" stroke="#e25a5a"/>
<circle cx="223.5" cy="349.2" r="3.1" stroke="#e25a5a"/>
<circle cx="224.5" cy="350.78" r="3.1" stroke="#e25a5a"/>
<circle cx="226.4" cy="351.43" r="3.1" stroke="#e25a5a"/>
<circle cx="228.3" cy="352.48" r="3.1" stroke="#e25a5a"/>
<circle cx="230.2" cy="356.5" r="3.1" stroke="#e25a5a"/>
<circle cx="232.1" cy="362.73" r="3.1" stroke="#e25a5a"/>
<circle cx="234" cy="362.74" r="3.1" stroke="#e25a5a"/>
<circle cx="235.9" cy="367.3" r="3.1" stroke="#e25a5a"/>
<circle cx="237.8" cy="366.04" r="3.1" stroke="#e25a5a"/>
<circle cx="239.7" cy="370.47" r="3.1" stroke="#e25a5a"/>
<circle cx="241.6" cy="372.36" r="3.1" stroke="#e25a5a"/>
<circle cx="243.5" cy="374.13" r="3.1" stroke="#e25a5a"/>
<circle cx="245.4" cy="374.53" r="3.1" stroke="#e25a5a"/>
<circle cx="247.3" cy="383.32" r="3.1" stroke="#e25a5a"/>
<circle cx="249.2" cy="381.83" r="3.1" stroke="#e25a5a"/>
<circle cx="251.1" cy="384.29" r="3.1" stroke="#e25a5a"/>
<circle cx="253" cy="387.92" r="3.1" stroke="#e25a5a"/>
<circle cx="254.9" cy="389.76" r="3.1" stroke="#e25a5a"/>
<circle cx="256.8" cy="391.96" r="3.1" stroke="#e25a5a"/>
<circle cx="258.7" cy="392.97" r="3.1" stroke="#e25a5a"/>
<circle cx="260.6" cy="392.8" r="3.1" stroke="#e25a5a"/>
<circle cx="262.5" cy="398.14" r="3.1" stroke="#e25a5a"/>
<circle cx="264.4" cy="397" r="3.1" stroke="#e25a5a"/>
<circle cx="266.3" cy="400.37" r="3.1" stroke="#e25a5a"/>
<circle cx="268.2" cy="402.48" r="3.1" stroke="#e25a5a"/>
<circle cx="270.1" cy="405" r="3.1" stroke="#e25a5a"/>
<circle cx="272" cy="404.21" r="3.1" stroke="#e25a5a"/>
<circle cx="273.9" cy="405.52" r="3.1" stroke="#e25a5a"/>
<circle cx="275.8" cy="407.07" r="3.1" stroke="#e25a5a"/>
<circle cx="277.7" cy="405.73" r="3.1" stroke="#e25a5a"/>
<circle cx="279.6" cy="408.94" r="3.1" stroke="#e25a5a"/>
<circle cx="281.5" cy="409.85" r="3.1" stroke="#e25a5a"/>
<circle cx="283.4" cy="410.9" r="3.1" stroke="#e25a5a"/>
<circle cx="285.3" cy="414.5" r="3.1" stroke="#e25a5a"/>
<circle cx="287.2" cy="414.92" r="3.1" stroke="#e25a5a"/>
<circle cx="289.1" cy="419.6" r="3.1" stroke="#e25a5a"/>
<circle cx="291" cy="420.66" r="3.1" stroke="#e25a5a"/>
<circle cx="292.9" cy="415.72" r="3.1" stroke="#e25a5a"/>
<circle cx="294.8" cy="420.58" r="3.1" stroke="#e25a5a"/>
<circle cx="296.7" cy="419.65" r="3.1" stroke="#e25a5a"/>
<circle cx="298.6" cy="423.71" r="3.1" stroke="#e25a5a"/>
<circle cx="300.5" cy="424.1" r="3.1" stroke="#e25a5a"/>
<circle cx="302.4" cy="426.73" r="3.1" stroke="#e25a5a"/>
<circle cx="304.3" cy="426.7" r="3.1" stroke="#e25a5a"/>
<circle cx="306.2" cy="428.73" r="3.1" stroke="#e25a5a"/>
<circle cx="308.1" cy="427.79" r="3.1" stroke="#e25a5a"/>
<circle cx="310" cy="424.49" r="3.1" stroke="#e25a5a"/>
<circle cx="311.9" cy="428.16" r="3.1" stroke="#e25a5a"/>
<circle cx="313.8" cy="429.82" r="3.1" stroke="#e25a5a"/>
<circle cx="315.7" cy="431.48" r="3.1" stroke="#e25a5a"/>
<circle cx="317.6" cy="431.25" r="3.1" stroke="#e25a5a"/>
<circle cx="319.5" cy="437.49" r="3.1" stroke="#e25a5a"/>
<circle cx="321.4" cy="434.44" r="3.1" stroke="#e25a5a"/>
<circle cx="323.3" cy="438.18" r="3.1" stroke="#e25a5a"/>
<circle cx="325.2" cy="435.34" r="3.1" stroke="#e25a5a"/>
<circle cx="327.1" cy="440.19" r="3.1" stroke="#e25a5a"/>
<circle cx="329" cy="434.63" r="3.1" stroke="#e25a5a"/>
<circle cx="330.9" cy="439.13" r="3.1" stroke="#e25a5a"/>
<circle cx="332.8" cy="435.51" r="3.1" stroke="#e25a5a"/>
<circle cx="334.7" cy="440.05" r="3.1" stroke="#e25a5a"/>
<circle cx="336.6" cy="443.27" r="3.1" stroke="#e25a5a"/>
<circle cx="338.5" cy="436.71" r="3.1" stroke="#e25a5a"/>
<circle cx="340.4" cy="439.06" r="3.1" stroke="#e25a5a"/>
<circle cx="342.3" cy="442.24" r="3.1" stroke="#e25a5a"/>
<circle cx="344.2" cy="441.88" r="3.1" stroke="#e25a5a"/>
<circle cx="346.1" cy="439.75" r="3.1" stroke="#e25a5a"/>
<circle cx="348" cy="446.2" r="3.1" stroke="#e25a5a"/>
<circle cx="349.9" cy="444.18" r="3.1" stroke="#e25a5a"/>
<circle cx="351.8" cy="447.67" r="3.1" stroke="#e25a5a"/>
<circle cx="353.7" cy="445.89" r="3.1" stroke="#e25a5a"/>
<circle cx="355.6" cy="442.88" r="3.1" stroke="#e25a5a"/>
<circle cx="357.5" cy="444.99" r="3.1" stroke="#e25a5a"/>
<circle cx="359.4" cy="450.02" r="3.1" stroke="#e25a5a"/>
<circle cx="361.3" cy="443.71" r="3.1" stroke="#e25a5a"/>
<circle cx="363.2" cy="446.43" r="3.1" stroke="#e25a5a"/>
<circle cx="365.1" cy="449.52" r="3.1" stroke="#e25a5a"/>
<circle cx="367" cy="451" r="3.1" stroke="#e25a5a"/>
<circle cx="368.9" cy="450.94" r="3.1" stroke="#e25a5a"/>
<circle cx="370.8" cy="445.49" r="3.1" stroke="#e25a5a"/>
<circle cx="372.7" cy="454.97" r="3.1" stroke="#e25a5a"/>
<circle cx="374.6" cy="449.57" r="3.1" stroke="#e25a5a"/>
<circle cx="376.5" cy="450.39" r="3.1" stroke="#e25a5a"/>
<circle cx="378.4" cy="450.71" r="3.1" stroke="#e25a5a"/>
<circle cx="380.3" cy="450.47" r="3.1" stroke="#e25a5a"/>
<circle cx="382.2" cy="448.89" r="3.1" stroke="#e25a5a"/>
<circle cx="384.1" cy="450.95" r="3.1" stroke="#e25a5a"/>
<circle cx="386" cy="455.75" r="3.1" stroke="#e25a5a"/>
<circle cx="387.9" cy="448.9" r="3.1" stroke="#e25a5a"/>
<circle cx="389.8" cy="446.35" r="3.1" stroke="#e25a5a"/>
<circle cx="391.7" cy="454.81" r="3.1" stroke="#e25a5a"/>
<circle cx="393.6" cy="454.65" r="3.1" stroke="#e25a5a"/>
<circle cx="395.5" cy="456.12" r="3.1" stroke="#e25a5a"/>
<circle cx="397.4" cy="459.3" r="3.1" stroke="#e25a5a"/>
<circle cx="399.3" cy="452.83" r="3.1" stroke="#e25a5a"/>
<circle cx="401.2" cy="455.75" r="3.1" stroke="#e25a5a"/>
<circle cx="403.1" cy="457.05" r="3.1" stroke="#e25a5a"/>
<circle cx="405" cy="459.52" r="3.1" stroke="#e25a5a"/>
<circle cx="406.9" cy="459.35" r="3.1" stroke="#e25a5a"/>
<circle cx="408.8" cy="454.39" r="3.1" stroke="#e25a5a"/>
<circle cx="410.7" cy="453.27" r="3.1" stroke="#e25a5a"/>
<circle cx="412.6" cy="456.94" r="3.1" stroke="#e25a5a"/>
<circle cx="414.5" cy="453.45" r="3.1" stroke="#e25a5a"/>
<circle cx="416.4" cy="461.94" r="3.1" stroke="#e25a5a"/>
<circle cx="418.3" cy="457.91" r="3.1" stroke="#e25a5a"/>
<circle cx="420.2" cy="458.41" r="3.1" stroke="#e25a5a"/>
<circle cx="422.1" cy="457.14" r="3.1" stroke="#e25a5a"/>
<circle cx="424" cy="464.74" r="3.1" stroke="#e25a5a"/>
<circle cx="425.9" cy="461.22" r="3.1" stroke="#e25a5a"/>
<circle cx="427.8" cy="459.22" r="3.1" stroke="#e25a5a"/>
<circle cx="429.7" cy="462.47" r="3.1" stroke="#e25a5a"/>
<circle cx="431.6" cy="460.4" r="3.1" stroke="#e25a5a"/>
<circle cx="433.5" cy="462.6" r="3.1" stroke="#e25a5a"/>
<circle cx="435.4" cy="464.96" r="3.1" stroke="#e25a5a"/>
<circle cx="437.3" cy="460.04" r="3.1" stroke="#e25a5a"/>
<circle cx="439.2" cy="462.55" r="3.1" stroke="#e25a5a"/>
<circle cx="441.1" cy="462.49" r="3.1" stroke="#e25a5a"/>
<circle cx="443" cy="464.63" r="3.1" stroke="#e25a5a"/>
<circle cx="444.9" cy="462.92" r="3.1" stroke="#e25a5a"/>
<circle cx="446.8" cy="460.89" r="3.1" stroke="#e25a5a"/>
<circle cx="448.7" cy="458.11" r="3.1" stroke="#e25a5a"/>
<circle cx="450.6" cy="460.41" r="3.1" stroke="#e25a5a"/>
<circle cx="452.5" cy="455.24" r="3.1" stroke="#e25a5a"/>
<circle cx="454.4" cy="460.28" r="3.1" stroke="#e25a5a"/>
<circle cx="456.3" cy="458" r="3.1" stroke="#e25a5a"/>
<circle cx="458.2" cy="459.36" r="3.1" stroke="#e25a5a"/>
<circle cx="460.1" cy="455.54" r="3.1" stroke="#e25a5a"/>
<circle cx="462" cy="454.4" r="3.1" stroke="#e25a5a"/>
<circle cx="463.9" cy="453.9" r="3.1" stroke="#e25a5a"/>
<circle cx="223.8" cy="489.8" r="3.1" stroke="#e25a5a"/>
<circle cx="223.8" cy="484" r="3.1" stroke="#e25a5a"/>
<path d="M220.9,335.97 L223.8,341.02 L218,341.02 Z" stroke="#5555e6"/>
<path d="M223.5,349.57 L226.4,354.62 L220.6,354.62 Z" stroke="#5555e6"/>
<path d="M224.2,343.97 L227.1,349.02 L221.3,349.02 Z" stroke="#5555e6"/>
<path d="M225.2,340.97 L228.1,346.02 L222.3,346.02 Z" stroke="#5555e6"/>
<path d="M226.5,339.97 L229.4,345.02 L223.6,345.02 Z" stroke="#5555e6"/>
<path d="M228,340.19 L230.9,345.24 L225.1,345.24 Z" stroke="#5555e6"/>
<path d="M229.6,341.7 L232.5,346.75 L226.7,346.75 Z" stroke="#5555e6"/>
<path d="M231.2,343.58 L234.1,348.63 L228.3,348.63 Z" stroke="#5555e6"/>
<path d="M232.8,346.18 L235.7,351.23 L229.9,351.23 Z" stroke="#5555e6"/>
<path d="M234.4,346.89 L237.3,351.94 L231.5,351.94 Z" stroke="#5555e6"/>
<path d="M236,351.61 L238.9,356.65 L233.1,356.65 Z" stroke="#5555e6"/>
<path d="M237.6,352.89 L240.5,357.94 L234.7,357.94 Z" stroke="#5555e6"/>
<path d="M239.2,354.42 L242.1,359.46 L236.3,359.46 Z" stroke="#5555e6"/>
<path d="M240.8,354.38 L243.7,359.43 L237.9,359.43 Z" stroke="#5555e6"/>
<path d="M242.4,356.52 L245.3,361.57 L239.5,361.57 Z" stroke="#5555e6"/>
<path d="M244,359.37 L246.9,364.42 L241.1,364.42 Z" stroke="#5555e6"/>
<path d="M245.6,360.51 L248.5,365.56 L242.7,365.56 Z" stroke="#5555e6"/>
<path d="M247.2,361.04 L250.1,366.08 L244.3,366.08 Z" stroke="#5555e6"/>
<path d="M248.8,363.57 L251.7,368.61 L245.9,368.61 Z" stroke="#5555e6"/>
<path d="M250.4,365.42 L253.3,370.46 L247.5,370.46 Z" stroke="#5555e6"/>
<path d="M252,364.78 L254.9,369.83 L249.1,369.83 Z" stroke="#5555e6"/>
<path d="M253.6,366.21 L256.5,371.25 L250.7,371.25 Z" stroke="#5555e6"/>
<path d="M255.2,367.01 L258.1,372.05 L252.3,372.05 Z" stroke="#5555e6"/>
<path d="M256.8,367.83 L259.7,372.88 L253.9,372.88 Z" stroke="#5555e6"/>
<path d="M258.4,371.43 L261.3,376.48 L255.5,376.48 Z" stroke="#5555e6"/>
<path d="M260,372.2 L262.9,377.25 L257.1,377.25 Z" stroke="#5555e6"/>
<path d="M261.6,373.08 L264.5,378.13 L258.7,378.13 Z" stroke="#5555e6"/>
<path d="M263.2,372.19 L266.1,377.24 L260.3,377.24 Z" stroke="#5555e6"/>
<path d="M264.8,373.37 L267.7,378.42 L261.9,378.42 Z" stroke="#5555e6"/>
<path d="M266.4,375.65 L269.3,380.69 L263.5,380.69 Z" stroke="#5555e6"/>
<path d="M268,376.11 L270.9,381.16 L265.1,381.16 Z" stroke="#5555e6"/>
<path d="M269.6,377.7 L272.5,382.75 L266.7,382.75 Z" stroke="#5555e6"/>
<path d="M271.2,377.42 L274.1,382.46 L268.3,382.46 Z" stroke="#5555e6"/>
<path d="M272.8,380.06 L275.7,385.1 L269.9,385.1 Z" stroke="#5555e6"/>
<path d="M274.4,382.41 L277.3,387.46 L271.5,387.46 Z" stroke="#5555e6"/>
<path d="M276,382.79 L278.9,387.84 L273.1,387.84 Z" stroke="#5555e6"/>
<path d="M277.6,383.59 L280.5,388.64 L274.7,388.64 Z" stroke="#5555e6"/>
<path d="M279.2,382.08 L282.1,387.13 L276.3,387.13 Z" stroke="#5555e6"/>
<path d="M280.8,383.97 L283.7,389.01 L277.9,389.01 Z" stroke="#5555e6"/>
<path d="M282.4,382.73 L285.3,387.78 L279.5,387.78 Z" stroke="#5555e6"/>
<path d="M284,385.28 L286.9,390.33 L281.1,390.33 Z" stroke="#5555e6"/>
<path d="M285.6,384.01 L288.5,389.05 L282.7,389.05 Z" stroke="#5555e6"/>
<path d="M287.2,384.49 L290.1,389.54 L284.3,389.54 Z" stroke="#5555e6"/>
<path d="M288.8,384.92 L291.7,389.97 L285.9,389.97 Z" stroke="#5555e6"/>
<path d="M290.4,387.66 L293.3,392.7 L287.5,392.7 Z" stroke="#5555e6"/>
<path d="M292,387.71 L294.9,392.76 L289.1,392.76 Z" stroke="#5555e6"/>
<path d="M293.6,388.27 L296.5,393.32 L290.7,393.32 Z" stroke="#5555e6"/>
<path d="M295.2,386.88 L298.1,391.93 L292.3,391.93 Z" stroke="#5555e6"/>
<path d="M296.8,389.58 L299.7,394.63 L293.9,394.63 Z" stroke="#5555e6"/>
<path d="M298.4,387.74 L301.3,392.79 L295.5,392.79 Z" stroke="#5555e6"/>
<path d="M300,393.09 L302.9,398.14 L297.1,398.14 Z" stroke="#5555e6"/>
<path d="M301.6,391.17 L304.5,396.22 L298.7,396.22 Z" stroke="#5555e6"/>
<path d="M303.2,392.36 L306.1,397.41 L300.3,397.41 Z" stroke="#5555e6"/>
<path d="M304.8,392.52 L307.7,397.56 L301.9,397.56 Z" stroke="#5555e6"/>
<path d="M306.4,390.69 L309.3,395.74 L303.5,395.74 Z" stroke="#5555e6"/>
<path d="M308,391.65 L310.9,396.7 L305.1,396.7 Z" stroke="#5555e6"/>
<path d="M309.6,394.52 L312.5,399.56 L306.7,399.56 Z" stroke="#5555e6"/>
<path d="M311.2,397.71 L314.1,402.75 L308.3,402.75 Z" stroke="#5555e6"/>
<path d="M312.8,393.83 L315.7,398.87 L309.9,398.87 Z" stroke="#5555e6"/>
<path d="M314.4,395.08 L317.3,400.13 L311.5,400.13 Z" stroke="#5555e6"/>
<path d="M316,396.77 L318.9,401.81 L313.1,401.81 Z" stroke="#5555e6"/>
<path d="M317.6,394.4 L320.5,399.45 L314.7,399.45 Z" stroke="#5555e6"/>
<path d="M319.2,394.86 L322.1,399.91 L316.3,399.91 Z" stroke="#5555e6"/>
<path d="M320.8,397.62 L323.7,402.66 L317.9,402.66 Z" stroke="#5555e6"/>
<path d="M322.4,398.74 L325.3,403.79 L319.5,403.79 Z" stroke="#5555e6"/>
<path d="M324,398.57 L326.9,403.62 L321.1,403.62 Z" stroke="#5555e6"/>
<path d="M325.6,402.54 L328.5,407.58 L322.7,407.58 Z" stroke="#5555e6"/>
<path d="M327.2,399.87 L330.1,404.92 L324.3,404.92 Z" stroke="#5555e6"/>
<path d="M328.8,401.28 L331.7,406.32 L325.9,406.32 Z" stroke="#5555e6"/>
<path d="M330.4,404.02 L333.3,409.07 L327.5,409.07 Z" stroke="#5555e6"/>
<path d="M332,404.66 L334.9,409.71 L329.1,409.71 Z" stroke="#5555e6"/>
<path d="M333.6,398.86 L336.5,403.9 L330.7,403.9 Z" stroke="#5555e6"/>
<path d="M335.2,401.56 L338.1,406.6 L332.3,406.6 Z" stroke="#5555e6"/>
<path d="M336.8,404.91 L339.7,409.96 L333.9,409.96 Z" stroke="#5555e6"/>
<path d="M338.4,400.4 L341.3,405.45 L335.5,405.45 Z" stroke="#5555e6"/>
<path d="M340,401.66 L342.9,406.71 L337.1,406.71 Z" stroke="#5555e6"/>
<path d="M341.6,401.3 L344.5,406.35 L338.7,406.35 Z" stroke="#5555e6"/>
<path d="M343.2,401.54 L346.1,406.58 L340.3,406.58 Z" stroke="#5555e6"/>
<path d="M344.8,402.35 L347.7,407.4 L341.9,407.4 Z" stroke="#5555e6"/>
<path d="M346.4,405.33 L349.3,410.38 L343.5,410.38 Z" stroke="#5555e6"/>
<path d="M348,407.91 L350.9,412.95 L345.1,412.95 Z" stroke="#5555e6"/>
<path d="M349.6,408.82 L352.5,413.86 L346.7,413.86 Z" stroke="#5555e6"/>
<path d="M351.2,406.1 L354.1,411.15 L348.3,411.15 Z" stroke="#5555e6"/>
<path d="M352.8,402.38 L355.7,407.43 L349.9,407.43 Z" stroke="#5555e6"/>
<path d="M354.4,406.68 L357.3,411.73 L351.5,411.73 Z" stroke="#5555e6"/>
<path d="M356,406.45 L358.9,411.49 L353.1,411.49 Z" stroke="#5555e6"/>
<path d="M357.6,408.25 L360.5,413.29 L354.7,413.29 Z" stroke="#5555e6"/>
<path d="M359.2,407.59 L362.1,412.63 L356.3,412.63 Z" stroke="#5555e6"/>
<path d="M360.8,404.39 L363.7,409.44 L357.9,409.44 Z" stroke="#5555e6"/>
<path d="M362.4,409.44 L365.3,414.49 L359.5,414.49 Z" stroke="#5555e6"/>
<path d="M364,404.46 L366.9,409.5 L361.1,409.5 Z" stroke="#5555e6"/>
<path d="M365.6,407.76 L368.5,412.8 L362.7,412.8 Z" stroke="#5555e6"/>
<path d="M367.2,410.28 L370.1,415.33 L364.3,415.33 Z" stroke="#5555e6"/>
<path d="M368.8,410.71 L371.7,415.76 L365.9,415.76 Z" stroke="#5555e6"/>
<path d="M370.4,413.76 L373.3,418.8 L367.5,418.8 Z" stroke="#5555e6"/>
<path d="M372,405.39 L374.9,410.44 L369.1,410.44 Z" stroke="#5555e6"/>
<path d="M373.6,411.74 L376.5,416.79 L370.7,416.79 Z" stroke="#5555e6"/>
<path d="M375.2,412.88 L378.1,417.92 L372.3,417.92 Z" stroke="#5555e6"/>
<path d="M376.8,410.93 L379.7,415.98 L373.9,415.98 Z" stroke="#5555e6"/>
<path d="M378.4,413.47 L381.3,418.52 L375.5,418.52 Z" stroke="#5555e6"/>
<path d="M380,409.85 L382.9,414.89 L377.1,414.89 Z" stroke="#5555e6"/>
<path d="M381.6,414.23 L384.5,419.28 L378.7,419.28 Z" stroke="#5555e6"/>
<path d="M383.2,414.31 L386.1,419.36 L380.3,419.36 Z" stroke="#5555e6"/>
<path d="M384.8,411.13 L387.7,416.18 L381.9,416.18 Z" stroke="#5555e6"/>
<path d="M386.4,412.21 L389.3,417.26 L383.5,417.26 Z" stroke="#5555e6"/>
<path d="M388,413.68 L390.9,418.73 L385.1,418.73 Z" stroke="#5555e6"/>
<path d="M389.6,412.93 L392.5,417.98 L386.7,417.98 Z" stroke="#5555e6"/>
<path d="M391.2,417.33 L394.1,422.38 L388.3,422.38 Z" stroke="#5555e6"/>
<path d="M392.8,415.63 L395.7,420.68 L389.9,420.68 Z" stroke="#5555e6"/>
<path d="M394.4,418.76 L397.3,423.81 L391.5,423.81 Z" stroke="#5555e6"/>
<path d="M396,418.82 L398.9,423.87 L393.1,423.87 Z" stroke="#5555e6"/>
<path d="M397.6,416.51 L400.5,421.56 L394.7,421.56 Z" stroke="#5555e6"/>
<path d="M399.2,416.29 L402.1,421.34 L396.3,421.34 Z" stroke="#5555e6"/>
<path d="M400.8,414.83 L403.7,419.88 L397.9,419.88 Z" stroke="#5555e6"/>
<path d="M402.4,415.58 L405.3,420.63 L399.5,420.63 Z" stroke="#5555e6"/>
<path d="M404,415.99 L406.9,421.04 L401.1,421.04 Z" stroke="#5555e6"/>
<path d="M405.6,419.27 L408.5,424.32 L402.7,424.32 Z" stroke="#5555e6"/>
<path d="M407.2,416.59 L410.1,421.64 L404.3,421.64 Z" stroke="#5555e6"/>
<path d="M408.8,419.44 L411.7,424.49 L405.9,424.49 Z" stroke="#5555e6"/>
<path d="M410.4,420.15 L413.3,425.2 L407.5,425.2 Z" stroke="#5555e6"/>
<path d="M412,418.82 L414.9,423.86 L409.1,423.86 Z" stroke="#5555e6"/>
<path d="M413.6,420.03 L416.5,425.08 L410.7,425.08 Z" stroke="#5555e6"/>
<path d="M415.2,424.67 L418.1,429.72 L412.3,429.72 Z" stroke="#5555e6"/>
<path d="M416.8,425.55 L419.7,430.59 L413.9,430.59 Z" stroke="#5555e6"/>
<path d="M418.4,419.73 L421.3,424.78 L415.5,424.78 Z" stroke="#5555e6"/>
<path d="M420,421.68 L422.9,426.73 L417.1,426.73 Z" stroke="#5555e6"/>
<path d="M421.6,421.63 L424.5,426.67 L418.7,426.67 Z" stroke="#5555e6"/>
<path d="M423.2,422.29 L426.1,427.33 L420.3,427.33 Z" stroke="#5555e6"/>
<path d="M424.8,427.52 L427.7,432.57 L421.9,432.57 Z" stroke="#5555e6"/>
<path d="M426.4,425.67 L429.3,430.72 L423.5,430.72 Z" stroke="#5555e6"/>
<path d="M428,427.62 L430.9,432.67 L425.1,432.67 Z" stroke="#5555e6"/>
<path d="M429.6,429.43 L432.5,434.48 L426.7,434.48 Z" stroke="#5555e6"/>
<path d="M431.2,423.81 L434.1,428.85 L428.3,428.85 Z" stroke="#5555e6"/>
<path d="M432.8,424.88 L435.7,429.92 L429.9,429.92 Z" stroke="#5555e6"/>
<path d="M434.4,425.88 L437.3,430.93 L431.5,430.93 Z" stroke="#5555e6"/>
<path d="M436,428.99 L438.9,434.03 L433.1,434.03 Z" stroke="#5555e6"/>
<path d="M437.6,426.28 L440.5,431.33 L434.7,431.33 Z" stroke="#5555e6"/>
<path d="M439.2,428.71 L442.1,433.76 L436.3,433.76 Z" stroke="#5555e6"/>
<path d="M440.8,430.56 L443.7,435.61 L437.9,435.61 Z" stroke="#5555e6"/>
<path d="M442.4,430.94 L445.3,435.99 L439.5,435.99 Z" stroke="#5555e6"/>
<path d="M444,429.3 L446.9,434.35 L441.1,434.35 Z" stroke="#5555e6"/>
<path d="M445.6,426.17 L448.5,431.21 L442.7,431.21 Z" stroke="#5555e6"/>
<path d="M447.2,424.34 L450.1,429.39 L444.3,429.39 Z" stroke="#5555e6"/>
<path d="M448.8,432.37 L451.7,437.42 L445.9,437.42 Z" stroke="#5555e6"/>
<path d="M450.4,430.83 L453.3,435.88 L447.5,435.88 Z" stroke="#5555e6"/>
<path d="M452,427.17 L454.9,432.21 L449.1,432.21 Z" stroke="#5555e6"/>
<path d="M453.6,428.78 L456.5,433.82 L450.7,433.82 Z" stroke="#5555e6"/>
<path d="M455.2,429.3 L458.1,434.34 L452.3,434.34 Z" stroke="#5555e6"/>
<path d="M456.8,426.05 L459.7,431.09 L453.9,431.09 Z" stroke="#5555e6"/>
<path d="M458.4,432.07 L461.3,437.12 L455.5,437.12 Z" stroke="#5555e6"/>
<path d="M460,429.35 L462.9,434.4 L457.1,434.4 Z" stroke="#5555e6"/>
<path d="M461.6,431.17 L464.5,436.21 L458.7,436.21 Z" stroke="#5555e6"/>
<path d="M463.2,434.61 L466.1,439.66 L460.3,439.66 Z" stroke="#5555e6"/>
<path d="M464.8,432.46 L467.7,437.51 L461.9,437.51 Z" stroke="#5555e6"/>
<path d="M223.8,448.47 L226.7,453.52 L220.9,453.52 Z" stroke="#5555e6"/>
<path d="M223.8,450.76 L226.7,455.81 L220.9,455.81 Z" stroke="#5555e6"/>
<path d="M223.8,453.05 L226.7,458.1 L220.9,458.1 Z" stroke="#5555e6"/>
<path d="M223.8,455.34 L226.7,460.39 L220.9,460.39 Z" stroke="#5555e6"/>
<path d="M223.8,457.63 L226.7,462.68 L220.9,462.68 Z" stroke="#5555e6"/>
<path d="M223.8,459.92 L226.7,464.97 L220.9,464.97 Z" stroke="#5555e6"/>
<path d="M223.8,462.21 L226.7,467.26 L220.9,467.26 Z" stroke="#5555e6"/>
<path d="M223.8,464.5 L226.7,469.54 L220.9,469.54 Z" stroke="#5555e6"/>
<path d="M223.8,466.79 L226.7,471.83 L220.9,471.83 Z" stroke="#5555e6"/>
<path d="M223.8,469.08 L226.7,474.12 L220.9,474.12 Z" stroke="#5555e6"/>
<path d="M223.8,471.37 L226.7,476.41 L220.9,476.41 Z" stroke="#5555e6"/>
<path d="M223.8,473.66 L226.7,478.7 L220.9,478.7 Z" stroke="#5555e6"/>
<path d="M223.8,475.95 L226.7,480.99 L220.9,480.99 Z" stroke="#5555e6"/>
<path d="M223.8,478.24 L226.7,483.28 L220.9,483.28 Z" stroke="#5555e6"/>
<path d="M223.8,480.53 L226.7,485.57 L220.9,485.57 Z" stroke="#5555e6"/>
<path d="M223.8,482.81 L226.7,487.86 L220.9,487.86 Z" stroke="#5555e6"/>
<path d="M223.8,485.1 L226.7,490.15 L220.9,490.15 Z" stroke="#5555e6"/>
<path d="M223.8,487.39 L226.7,492.44 L220.9,492.44 Z" stroke="#5555e6"/>
<path d="M223.8,489.68 L226.7,494.73 L220.9,494.73 Z" stroke="#5555e6"/>
<path d="M223.8,491.97 L226.7,497.02 L220.9,497.02 Z" stroke="#5555e6"/>
<rect x="221" y="354.3" width="5" height="5" stroke="#a0a0a0"/>
<rect x="221.3" y="346.5" width="5" height="5" stroke="#a0a0a0"/>
<rect x="221.7" y="341.5" width="5" height="5" stroke="#a0a0a0"/>
<rect x="223" y="339" width="5" height="5" stroke="#a0a0a0"/>
<rect x="224.5" y="337.5" width="5" height="5" stroke="#a0a0a0"/>
<rect x="226" y="340.15" width="5" height="5" stroke="#a0a0a0"/>
<rect x="227.75" y="340.11" width="5" height="5" stroke="#a0a0a0"/>
<rect x="229.5" y="341.86" width="5" height="5" stroke="#a0a0a0"/>
<rect x="231.25" y="341.51" width="5" height="5" stroke="#a0a0a0"/>
<rect x="233" y="346.08" width="5" height="5" stroke="#a0a0a0"/>
<rect x="234.75" y="347.55" width="5" height="5" stroke="#a0a0a0"/>
<rect x="236.5" y="349.06" width="5" height="5" stroke="#a0a0a0"/>
<rect x="238.25" y="351.67" width="5" height="5" stroke="#a0a0a0"/>
<rect x="240" y="353.44" width="5" height="5" stroke="#a0a0a0"/>
<rect x="241.75" y="353.44" width="5" height="5" stroke="#a0a0a0"/>
<rect x="243.5" y="355.2" width="5" height="5" stroke="#a0a0a0"/>
<rect x="245.25" y="357.17" width="5" height="5" stroke="#a0a0a0"/>
<rect x="247" y="359.95" width="5" height="5" stroke="#a0a0a0"/>
<rect x="248.75" y="361.26" width="5" height="5" stroke="#a0a0a0"/>
<rect x="250.5" y="360.58" width="5" height="5" stroke="#a0a0a0"/>
<rect x="252.25" y="362.17" width="5" height="5" stroke="#a0a0a0"/>
<rect x="254" y="365.64" width="5" height="5" stroke="#a0a0a0"/>
<rect x="255.75" y="367.93" width="5" height="5" stroke="#a0a0a0"/>
<rect x="257.5" y="367.38" width="5" height="5" stroke="#a0a0a0"/>
<rect x="259.25" y="367.89" width="5" height="5" stroke="#a0a0a0"/>
<rect x="261" y="371.23" width="5" height="5" stroke="#a0a0a0"/>
<rect x="262.75" y="370.78" width="5" height="5" stroke="#a0a0a0"/>
<rect x="264.5" y="373.22" width="5" height="5" stroke="#a0a0a0"/>
<rect x="266.25" y="375.39" width="5" height="5" stroke="#a0a0a0"/>
<rect x="268" y="375.44" width="5" height="5" stroke="#a0a0a0"/>
<rect x="269.75" y="375.89" width="5" height="5" stroke="#a0a0a0"/>
<rect x="271.5" y="377.82" width="5" height="5" stroke="#a0a0a0"/>
<rect x="273.25" y="377.21" width="5" height="5" stroke="#a0a0a0"/>
<rect x="275" y="378.86" width="5" height="5" stroke="#a0a0a0"/>
<rect x="276.75" y="379.42" width="5" height="5" stroke="#a0a0a0"/>
<rect x="278.5" y="380.94" width="5" height="5" stroke="#a0a0a0"/>
<rect x="280.25" y="381.61" width="5" height="5" stroke="#a0a0a0"/>
<rect x="282" y="383.02" width="5" height="5" stroke="#a0a0a0"/>
<rect x="283.75" y="383.77" width="5" height="5" stroke="#a0a0a0"/>
<rect x="285.5" y="385.39" width="5" height="5" stroke="#a0a0a0"/>
<rect x="287.25" y="386.35" width="5" height="5" stroke="#a0a0a0"/>
<rect x="289" y="387.64" width="5" height="5" stroke="#a0a0a0"/>
<rect x="290.75" y="390.09" width="5" height="5" stroke="#a0a0a0"/>
<rect x="292.5" y="387.12" width="5" height="5" stroke="#a0a0a0"/>
<rect x="294.25" y="391.9" width="5" height="5" stroke="#a0a0a0"/>
<rect x="296" y="390.78" width="5" height="5" stroke="#a0a0a0"/>
<rect x="297.75" y="390.37" width="5" height="5" stroke="#a0a0a0"/>
<rect x="299.5" y="392.77" width="5" height="5" stroke="#a0a0a0"/>
<rect x="301.25" y="394.07" width="5" height="5" stroke="#a0a0a0"/>
<rect x="303" y="396.38" width="5" height="5" stroke="#a0a0a0"/>
<rect x="304.75" y="394.34" width="5" height="5" stroke="#a0a0a0"/>
<rect x="306.5" y="397.07" width="5" height="5" stroke="#a0a0a0"/>
<rect x="308.25" y="397.86" width="5" height="5" stroke="#a0a0a0"/>
<rect x="310" y="396.21" width="5" height="5" stroke="#a0a0a0"/>
<rect x="311.75" y="397.84" width="5" height="5" stroke="#a0a0a0"/>
<rect x="313.5" y="401.34" width="5" height="5" stroke="#a0a0a0"/>
<rect x="315.25" y="402.4" width="5" height="5" stroke="#a0a0a0"/>
<rect x="317" y="403.9" width="5" height="5" stroke="#a0a0a0"/>
<rect x="318.75" y="404.01" width="5" height="5" stroke="#a0a0a0"/>
<rect x="320.5" y="404.72" width="5" height="5" stroke="#a0a0a0"/>
<rect x="322.25" y="405.23" width="5" height="5" stroke="#a0a0a0"/>
<rect x="324" y="407.77" width="5" height="5" stroke="#a0a0a0"/>
<rect x="325.75" y="405.58" width="5" height="5" stroke="#a0a0a0"/>
<rect x="327.5" y="407.54" width="5" height="5" stroke="#a0a0a0"/>
<rect x="329.25" y="409.24" width="5" height="5" stroke="#a0a0a0"/>
<rect x="331" y="407.12" width="5" height="5" stroke="#a0a0a0"/>
<rect x="332.75" y="412.46" width="5" height="5" stroke="#a0a0a0"/>
<rect x="334.5" y="410.09" width="5" height="5" stroke="#a0a0a0"/>
<rect x="336.25" y="412.09" width="5" height="5" stroke="#a0a0a0"/>
<rect x="338" y="416.47" width="5" height="5" stroke="#a0a0a0"/>
<rect x="339.75" y="412.64" width="5" height="5" stroke="#a0a0a0"/>
<rect x="341.5" y="413.98" width="5" height="5" stroke="#a0a0a0"/>
<rect x="343.25" y="418.19" width="5" height="5" stroke="#a0a0a0"/>
<rect x="345" y="414.82" width="5" height="5" stroke="#a0a0a0"/>
<rect x="346.75" y="416.73" width="5" height="5" stroke="#a0a0a0"/>
<rect x="348.5" y="419.13" width="5" height="5" stroke="#a0a0a0"/>
<rect x="350.25" y="419.89" width="5" height="5" stroke="#a0a0a0"/>
<rect x="352" y="420.98" width="5" height="5" stroke="#a0a0a0"/>
<rect x="353.75" y="421.47" width="5" height="5" stroke="#a0a0a0"/>
<rect x="355.5" y="423.95" width="5" height="5" stroke="#a0a0a0"/>
<rect x="357.25" y="424.26" width="5" height="5" stroke="#a0a0a0"/>
<rect x="359" y="424.41" width="5" height="5" stroke="#a0a0a0"/>
<rect x="360.75" y="423.1" width="5" height="5" stroke="#a0a0a0"/>
<rect x="362.5" y="423.89" width="5" height="5" stroke="#a0a0a0"/>
<rect x="364.25" y="422.69" width="5" height="5" stroke="#a0a0a0"/>
<rect x="366" y="427.96" width="5" height="5" stroke="#a0a0a0"/>
<rect x="367.75" y="424.47" width="5" height="5" stroke="#a0a0a0"/>
<rect x="369.5" y="429.97" width="5" height="5" stroke="#a0a0a0"/>
<rect x="371.25" y="432.5" width="5" height="5" stroke="#a0a0a0"/>
<rect x="373" y="428.25" width="5" height="5" stroke="#a0a0a0"/>
<rect x="374.75" y="429.73" width="5" height="5" stroke="#a0a0a0"/>
<rect x="376.5" y="430.92" width="5" height="5" stroke="#a0a0a0"/>
<rect x="378.25" y="434.06" width="5" height="5" stroke="#a0a0a0"/>
<rect x="380" y="431.87" width="5" height="5" stroke="#a0a0a0"/>
<rect x="381.75" y="433.99" width="5" height="5" stroke="#a0a0a0"/>
<rect x="383.5" y="434.1" width="5" height="5" stroke="#a0a0a0"/>
<rect x="385.25" y="435.4" width="5" height="5" stroke="#a0a0a0"/>
<rect x="387" y="439.02" width="5" height="5" stroke="#a0a0a0"/>
<rect x="388.75" y="435.71" width="5" height="5" stroke="#a0a0a0"/>
<rect x="390.5" y="438.41" width="5" height="5" stroke="#a0a0a0"/>
<rect x="392.25" y="439.59" width="5" height="5" stroke="#a0a0a0"/>
<rect x="394" y="441.49" width="5" height="5" stroke="#a0a0a0"/>
<rect x="395.75" y="438.34" width="5" height="5" stroke="#a0a0a0"/>
<rect x="397.5" y="443.59" width="5" height="5" stroke="#a0a0a0"/>
<rect x="399.25" y="443.12" width="5" height="5" stroke="#a0a0a0"/>
<rect x="401" y="444.76" width="5" height="5" stroke="#a0a0a0"/>
<rect x="402.75" y="444.04" width="5" height="5" stroke="#a0a0a0"/>
<rect x="404.5" y="441.56" width="5" height="5" stroke="#a0a0a0"/>
<rect x="406.25" y="444.24" width="5" height="5" stroke="#a0a0a0"/>
<rect x="408" y="447.84" width="5" height="5" stroke="#a0a0a0"/>
<rect x="409.75" y="447.12" width="5" height="5" stroke="#a0a0a0"/>
<rect x="411.5" y="447.73" width="5" height="5" stroke="#a0a0a0"/>
<rect x="413.25" y="452.1" width="5" height="5" stroke="#a0a0a0"/>
<rect x="415" y="453.69" width="5" height="5" stroke="#a0a0a0"/>
<rect x="416.75" y="450.05" width="5" height="5" stroke="#a0a0a0"/>
<rect x="418.5" y="454.71" width="5" height="5" stroke="#a0a0a0"/>
<rect x="420.25" y="447.66" width="5" height="5" stroke="#a0a0a0"/>
<rect x="422" y="448.28" width="5" height="5" stroke="#a0a0a0"/>
<rect x="423.75" y="454.85" width="5" height="5" stroke="#a0a0a0"/>
<rect x="425.5" y="453.31" width="5" height="5" stroke="#a0a0a0"/>
<rect x="427.25" y="455.74" width="5" height="5" stroke="#a0a0a0"/>
<rect x="429" y="456.33" width="5" height="5" stroke="#a0a0a0"/>
<rect x="430.75" y="455.8" width="5" height="5" stroke="#a0a0a0"/>
<rect x="432.5" y="458.08" width="5" height="5" stroke="#a0a0a0"/>
<rect x="434.25" y="457.68" width="5" height="5" stroke="#a0a0a0"/>
<rect x="436" y="454.88" width="5" height="5" stroke="#a0a0a0"/>
<rect x="437.75" y="459.18" width="5" height="5" stroke="#a0a0a0"/>
<rect x="439.5" y="459.76" width="5" height="5" stroke="#a0a0a0"/>
<rect x="441.25" y="463.83" width="5" height="5" stroke="#a0a0a0"/>
<rect x="443" y="458.21" width="5" height="5" stroke="#a0a0a0"/>
<rect x="444.75" y="461.19" width="5" height="5" stroke="#a0a0a0"/>
<rect x="446.5" y="460.81" width="5" height="5" stroke="#a0a0a0"/>
<rect x="448.25" y="461.96" width="5" height="5" stroke="#a0a0a0"/>
<rect x="450" y="466.31" width="5" height="5" stroke="#a0a0a0"/>
<rect x="451.75" y="464.07" width="5" height="5" stroke="#a0a0a0"/>
<rect x="453.5" y="462.73" width="5" height="5" stroke="#a0a0a0"/>
<rect x="455.25" y="464.54" width="5" height="5" stroke="#a0a0a0"/>
<rect x="457" y="466.33" width="5" height="5" stroke="#a0a0a0"/>
<rect x="458.75" y="462.94" width="5" height="5" stroke="#a0a0a0"/>
<rect x="460.5" y="464.98" width="5" height="5" stroke="#a0a0a0"/>
<rect x="462.25" y="469.39" width="5" height="5" stroke="#a0a0a0"/>
<rect x="221.3" y="491.5" width="5" height="5" stroke="#a0a0a0"/>
<rect x="221.3" y="493.68" width="5" height="5" stroke="#a0a0a0"/>
<rect x="221.3" y="495.86" width="5" height="5" stroke="#a0a0a0"/>
<rect x="221.3" y="498.05" width="5" height="5" stroke="#a0a0a0"/>
<rect x="221.3" y="500.23" width="5" height="5" stroke="#a0a0a0"/>
<rect x="221.3" y="502.41" width="5" height="5" stroke="#a0a0a0"/>
<rect x="221.3" y="504.59" width="5" height="5" stroke="#a0a0a0"/>
<rect x="221.3" y="506.77" width="5" height="5" stroke="#a0a0a0"/>
<rect x="221.3" y="508.95" width="5" height="5" stroke="#a0a0a0"/>
<rect x="221.3" y="511.14" width="5" height="5" stroke="#a0a0a0"/>
<rect x="221.3" y="513.32" width="5" height="5" stroke="#a0a0a0"/>
<rect x="221.3" y="515.5" width="5" height="5" stroke="#a0a0a0"/>
<path d="M223.5,330.4 L227.1,334 L223.5,337.6 L219.9,334 Z" stroke="#dd66dd"/>
<path d="M224.6,333.82 L228.2,337.42 L224.6,341.02 L221,337.42 Z" stroke="#dd66dd"/>
<path d="M226.9,337.81 L230.5,341.41 L226.9,345.01 L223.3,341.41 Z" stroke="#dd66dd"/>
<path d="M229.2,343.61 L232.8,347.21 L229.2,350.81 L225.6,347.21 Z" stroke="#dd66dd"/>
<path d="M231.5,347.75 L235.1,351.35 L231.5,354.95 L227.9,351.35 Z" stroke="#dd66dd"/>
<path d="M233.8,354.89 L237.4,358.49 L233.8,362.09 L230.2,358.49 Z" stroke="#dd66dd"/>
<path d="M236.1,356.59 L239.7,360.19 L236.1,363.79 L232.5,360.19 Z" stroke="#dd66dd"/>
<path d="M238.4,366.2 L242,369.8 L238.4,373.4 L234.8,369.8 Z" stroke="#dd66dd"/>
<path d="M240.7,369.07 L244.3,372.67 L240.7,376.27 L237.1,372.67 Z" stroke="#dd66dd"/>
<path d="M243,373.5 L246.6,377.1 L243,380.7 L239.4,377.1 Z" stroke="#dd66dd"/>
<path d="M245.3,375.92 L248.9,379.52 L245.3,383.12 L241.7,379.52 Z" stroke="#dd66dd"/>
<path d="M247.6,379.84 L251.2,383.44 L247.6,387.04 L244,383.44 Z" stroke="#dd66dd"/>
<path d="M249.9,384.87 L253.5,388.47 L249.9,392.07 L246.3,388.47 Z" stroke="#dd66dd"/>
<path d="M252.2,387.16 L255.8,390.76 L252.2,394.36 L248.6,390.76 Z" stroke="#dd66dd"/>
<path d="M254.5,390.69 L258.1,394.29 L254.5,397.89 L250.9,394.29 Z" stroke="#dd66dd"/>
<path d="M256.8,394.23 L260.4,397.83 L256.8,401.43 L253.2,397.83 Z" stroke="#dd66dd"/>
<path d="M259.1,396.17 L262.7,399.77 L259.1,403.37 L255.5,399.77 Z" stroke="#dd66dd"/>
<path d="M261.4,396.03 L265,399.63 L261.4,403.23 L257.8,399.63 Z" stroke="#dd66dd"/>
<path d="M263.7,399.28 L267.3,402.88 L263.7,406.48 L260.1,402.88 Z" stroke="#dd66dd"/>
<path d="M266,401.4 L269.6,405 L266,408.6 L262.4,405 Z" stroke="#dd66dd"/>
<path d="M268.3,403.85 L271.9,407.45 L268.3,411.05 L264.7,407.45 Z" stroke="#dd66dd"/>
<path d="M270.6,404.86 L274.2,408.46 L270.6,412.06 L267,408.46 Z" stroke="#dd66dd"/>
<path d="M272.9,407.03 L276.5,410.63 L272.9,414.23 L269.3,410.63 Z" stroke="#dd66dd"/>
<path d="M275.2,410.45 L278.8,414.05 L275.2,417.65 L271.6,414.05 Z" stroke="#dd66dd"/>
<path d="M277.5,412.69 L281.1,416.29 L277.5,419.89 L273.9,416.29 Z" stroke="#dd66dd"/>
<path d="M279.8,415.88 L283.4,419.48 L279.8,423.08 L276.2,419.48 Z" stroke="#dd66dd"/>
<path d="M282.1,417.1 L285.7,420.7 L282.1,424.3 L278.5,420.7 Z" stroke="#dd66dd"/>
<path d="M284.4,420.88 L288,424.48 L284.4,428.08 L280.8,424.48 Z" stroke="#dd66dd"/>
<path d="M286.7,419.65 L290.3,423.25 L286.7,426.85 L283.1,423.25 Z" stroke="#dd66dd"/>
<path d="M289,422.09 L292.6,425.69 L289,429.29 L285.4,425.69 Z" stroke="#dd66dd"/>
<path d="M291.3,425.74 L294.9,429.34 L291.3,432.94 L287.7,429.34 Z" stroke="#dd66dd"/>
<path d="M293.6,427.29 L297.2,430.89 L293.6,434.49 L290,430.89 Z" stroke="#dd66dd"/>
<path d="M295.9,428.7 L299.5,432.3 L295.9,435.9 L292.3,432.3 Z" stroke="#dd66dd"/>
<path d="M298.2,432.58 L301.8,436.18 L298.2,439.78 L294.6,436.18 Z" stroke="#dd66dd"/>
<path d="M300.5,434.99 L304.1,438.59 L300.5,442.19 L296.9,438.59 Z" stroke="#dd66dd"/>
<path d="M302.8,437.25 L306.4,440.85 L302.8,444.45 L299.2,440.85 Z" stroke="#dd66dd"/>
<path d="M305.1,437.35 L308.7,440.95 L305.1,444.55 L301.5,440.95 Z" stroke="#dd66dd"/>
<path d="M307.4,439.57 L311,443.17 L307.4,446.77 L303.8,443.17 Z" stroke="#dd66dd"/>
<path d="M309.7,441.62 L313.3,445.22 L309.7,448.82 L306.1,445.22 Z" stroke="#dd66dd"/>
<path d="M312,443.2 L315.6,446.8 L312,450.4 L308.4,446.8 Z" stroke="#dd66dd"/>
<path d="M314.3,446.07 L317.9,449.67 L314.3,453.27 L310.7,449.67 Z" stroke="#dd66dd"/>
<path d="M316.6,446.04 L320.2,449.64 L316.6,453.24 L313,449.64 Z" stroke="#dd66dd"/>
<path d="M318.9,448.78 L322.5,452.38 L318.9,455.98 L315.3,452.38 Z" stroke="#dd66dd"/>
<path d="M321.2,447.29 L324.8,450.89 L321.2,454.49 L317.6,450.89 Z" stroke="#dd66dd"/>
<path d="M323.5,452.63 L327.1,456.23 L323.5,459.83 L319.9,456.23 Z" stroke="#dd66dd"/>
<path d="M325.8,455.42 L329.4,459.02 L325.8,462.62 L322.2,459.02 Z" stroke="#dd66dd"/>
<path d="M328.1,454.81 L331.7,458.41 L328.1,462.01 L324.5,458.41 Z" stroke="#dd66dd"/>
<path d="M330.4,457.64 L334,461.24 L330.4,464.84 L326.8,461.24 Z" stroke="#dd66dd"/>
<path d="M332.7,455.33 L336.3,458.93 L332.7,462.53 L329.1,458.93 Z" stroke="#dd66dd"/>
<path d="M335,458.41 L338.6,462.01 L335,465.61 L331.4,462.01 Z" stroke="#dd66dd"/>
<path d="M337.3,457.96 L340.9,461.56 L337.3,465.16 L333.7,461.56 Z" stroke="#dd66dd"/>
<path d="M339.6,461.86 L343.2,465.46 L339.6,469.06 L336,465.46 Z" stroke="#dd66dd"/>
<path d="M341.9,463.46 L345.5,467.06 L341.9,470.66 L338.3,467.06 Z" stroke="#dd66dd"/>
<path d="M344.2,462.03 L347.8,465.63 L344.2,469.23 L340.6,465.63 Z" stroke="#dd66dd"/>
<path d="M346.5,464.22 L350.1,467.82 L346.5,471.42 L342.9,467.82 Z" stroke="#dd66dd"/>
<path d="M348.8,466.05 L352.4,469.65 L348.8,473.25 L345.2,469.65 Z" stroke="#dd66dd"/>
<path d="M351.1,472.18 L354.7,475.78 L351.1,479.38 L347.5,475.78 Z" stroke="#dd66dd"/>
<path d="M353.4,469.73 L357,473.33 L353.4,476.93 L349.8,473.33 Z" stroke="#dd66dd"/>
<path d="M355.7,471.46 L359.3,475.06 L355.7,478.66 L352.1,475.06 Z" stroke="#dd66dd"/>
<path d="M358,473.27 L361.6,476.87 L358,480.47 L354.4,476.87 Z" stroke="#dd66dd"/>
<path d="M360.3,474.55 L363.9,478.15 L360.3,481.75 L356.7,478.15 Z" stroke="#dd66dd"/>
<path d="M362.6,474.99 L366.2,478.59 L362.6,482.19 L359,478.59 Z" stroke="#dd66dd"/>
<path d="M364.9,474.41 L368.5,478.01 L364.9,481.61 L361.3,478.01 Z" stroke="#dd66dd"/>
<path d="M367.2,476.66 L370.8,480.26 L367.2,483.86 L363.6,480.26 Z" stroke="#dd66dd"/>
<path d="M369.5,481.66 L373.1,485.26 L369.5,488.86 L365.9,485.26 Z" stroke="#dd66dd"/>
<path d="M371.8,480.02 L375.4,483.62 L371.8,487.22 L368.2,483.62 Z" stroke="#dd66dd"/>
<path d="M374.1,479.6 L377.7,483.2 L374.1,486.8 L370.5,483.2 Z" stroke="#dd66dd"/>
<path d="M376.4,478.49 L380,482.09 L376.4,485.69 L372.8,482.09 Z" stroke="#dd66dd"/>
<path d="M378.7,481.65 L382.3,485.25 L378.7,488.85 L375.1,485.25 Z" stroke="#dd66dd"/>
<path d="M381,482.72 L384.6,486.32 L381,489.92 L377.4,486.32 Z" stroke="#dd66dd"/>
<path d="M383.3,482.35 L386.9,485.95 L383.3,489.55 L379.7,485.95 Z" stroke="#dd66dd"/>
<path d="M385.6,486.26 L389.2,489.86 L385.6,493.46 L382,489.86 Z" stroke="#dd66dd"/>
<path d="M387.9,484.29 L391.5,487.89 L387.9,491.49 L384.3,487.89 Z" stroke="#dd66dd"/>
<path d="M390.2,486.03 L393.8,489.63 L390.2,493.23 L386.6,489.63 Z" stroke="#dd66dd"/>
<path d="M392.5,488.96 L396.1,492.56 L392.5,496.16 L388.9,492.56 Z" stroke="#dd66dd"/>
<path d="M394.8,488.61 L398.4,492.21 L394.8,495.81 L391.2,492.21 Z" stroke="#dd66dd"/>
<path d="M397.1,491.33 L400.7,494.93 L397.1,498.53 L393.5,494.93 Z" stroke="#dd66dd"/>
<path d="M399.4,489.36 L403,492.96 L399.4,496.56 L395.8,492.96 Z" stroke="#dd66dd"/>
<path d="M401.7,489.73 L405.3,493.33 L401.7,496.93 L398.1,493.33 Z" stroke="#dd66dd"/>
<path d="M404,492.42 L407.6,496.02 L404,499.62 L400.4,496.02 Z" stroke="#dd66dd"/>
<path d="M406.3,492.62 L409.9,496.22 L406.3,499.82 L402.7,496.22 Z" stroke="#dd66dd"/>
<path d="M408.6,495.45 L412.2,499.05 L408.6,502.65 L405,499.05 Z" stroke="#dd66dd"/>
<path d="M410.9,494.41 L414.5,498.01 L410.9,501.61 L407.3,498.01 Z" stroke="#dd66dd"/>
<path d="M413.2,494.09 L416.8,497.69 L413.2,501.29 L409.6,497.69 Z" stroke="#dd66dd"/>
<path d="M415.5,495.77 L419.1,499.37 L415.5,502.97 L411.9,499.37 Z" stroke="#dd66dd"/>
<path d="M417.8,496.82 L421.4,500.42 L417.8,504.02 L414.2,500.42 Z" stroke="#dd66dd"/>
<path d="M420.1,493.27 L423.7,496.87 L420.1,500.47 L416.5,496.87 Z" stroke="#dd66dd"/>
<path d="M422.4,496.05 L426,499.65 L422.4,503.25 L418.8,499.65 Z" stroke="#dd66dd"/>
<path d="M424.7,496.08 L428.3,499.68 L424.7,503.28 L421.1,499.68 Z" stroke="#dd66dd"/>
<path d="M427,500.22 L430.6,503.82 L427,507.42 L423.4,503.82 Z" stroke="#dd66dd"/>
<path d="M429.3,496.61 L432.9,500.21 L429.3,503.81 L425.7,500.21 Z" stroke="#dd66dd"/>
<path d="M431.6,500.8 L435.2,504.4 L431.6,508 L428,504.4 Z" stroke="#dd66dd"/>
<path d="M433.9,495.47 L437.5,499.07 L433.9,502.67 L430.3,499.07 Z" stroke="#dd66dd"/>
<path d="M436.2,498.83 L439.8,502.43 L436.2,506.03 L432.6,502.43 Z" stroke="#dd66dd"/>
<path d="M438.5,502.01 L442.1,505.61 L438.5,509.21 L434.9,505.61 Z" stroke="#dd66dd"/>
<path d="M440.8,498.99 L444.4,502.59 L440.8,506.19 L437.2,502.59 Z" stroke="#dd66dd"/>
<path d="M443.1,502.93 L446.7,506.53 L443.1,510.13 L439.5,506.53 Z" stroke="#dd66dd"/>
<path d="M445.4,494.99 L449,498.59 L445.4,502.19 L441.8,498.59 Z" stroke="#dd66dd"/>
<path d="M447.7,500.59 L451.3,504.19 L447.7,507.79 L444.1,504.19 Z" stroke="#dd66dd"/>
<path d="M450,501.2 L453.6,504.8 L450,508.4 L446.4,504.8 Z" stroke="#dd66dd"/>
<path d="M452.3,500.67 L455.9,504.27 L452.3,507.87 L448.7,504.27 Z" stroke="#dd66dd"/>
<path d="M454.6,497.15 L458.2,500.75 L454.6,504.35 L451,500.75 Z" stroke="#dd66dd"/>
<path d="M456.9,503.23 L460.5,506.83 L456.9,510.43 L453.3,506.83 Z" stroke="#dd66dd"/>
<path d="M459.2,495.2 L462.8,498.8 L459.2,502.4 L455.6,498.8 Z" stroke="#dd66dd"/>
<path d="M461.5,504.4 L465.1,508 L461.5,511.6 L457.9,508 Z" stroke="#dd66dd"/>
<path d="M463.8,502.74 L467.4,506.34 L463.8,509.94 L460.2,506.34 Z" stroke="#dd66dd"/>
<path d="M223.8,511.4 L227.4,515 L223.8,518.6 L220.2,515 Z" stroke="#dd66dd"/>
<path d="M223.8,516.9 L227.4,520.5 L223.8,524.1 L220.2,520.5 Z" stroke="#dd66dd"/>
<path d="M229.6,341.65 L232.24,344.51 L234.88,347.27 L237.51,349.93 L240.15,352.49 L242.79,354.95 L245.43,357.32 L248.07,359.6 L250.71,361.79 L253.34,363.91 L255.98,365.95 L258.62,367.91 L261.26,369.82 L263.9,371.66 L266.53,373.45 L269.17,375.18 L271.81,376.87 L274.45,378.52 L277.09,380.13 L279.73,381.7 L282.36,383.24 L285,384.75 L287.64,386.24 L290.28,387.7 L292.92,389.14 L295.56,390.56 L298.19,391.97 L300.83,393.36 L303.47,394.73 L306.11,396.09 L308.75,397.45 L311.38,398.79 L314.02,400.12 L316.66,401.44 L319.3,402.75 L321.94,404.06 L324.58,405.35 L327.21,406.65 L329.85,407.93 L332.49,409.21 L335.13,410.49 L337.77,411.76 L340.4,413.02 L343.04,414.28 L345.68,415.54 L348.32,416.79 L350.96,418.03 L353.6,419.27 L356.23,420.51 L358.87,421.74 L361.51,422.97 L364.15,424.19 L366.79,425.41 L369.42,426.62 L372.06,427.83 L374.7,429.03 L377.34,430.23 L379.98,431.42 L382.62,432.61 L385.25,433.79 L387.89,434.96 L390.53,436.13 L393.17,437.29 L395.81,438.45 L398.44,439.6 L401.08,440.74 L403.72,441.88 L406.36,443 L409,444.12 L411.64,445.24 L414.27,446.34 L416.91,447.44 L419.55,448.52 L422.19,449.6 L424.83,450.67 L427.47,451.73 L430.1,452.78 L432.74,453.82 L435.38,454.85 L438.02,455.87 L440.66,456.87 L443.29,457.87 L445.93,458.86 L448.57,459.83 L451.21,460.79 L453.85,461.74 L456.49,462.68 L459.12,463.6 L461.76,464.51 L464.4,465.41" stroke="#000" stroke-width="1.8" fill="none"/>
<path d="M229.6,341.54 L232.24,344.32 L234.88,347.03 L237.51,349.67 L240.15,352.23 L242.79,354.72 L245.43,357.13 L248.07,359.45 L250.71,361.69 L253.34,363.85 L255.98,365.93 L258.62,367.92 L261.26,369.83 L263.9,371.66 L266.53,373.41 L269.17,375.08 L271.81,376.68 L274.45,378.21 L277.09,379.67 L279.73,381.07 L282.36,382.4 L285,383.67 L287.64,384.89 L290.28,386.06 L292.92,387.19 L295.56,388.26 L298.19,389.3 L300.83,390.29 L303.47,391.26 L306.11,392.19 L308.75,393.09 L311.38,393.96 L314.02,394.81 L316.66,395.63 L319.3,396.43 L321.94,397.22 L324.58,397.98 L327.21,398.74 L329.85,399.47 L332.49,400.19 L335.13,400.9 L337.77,401.6 L340.4,402.29 L343.04,402.97 L345.68,403.65 L348.32,404.31 L350.96,404.97 L353.6,405.62 L356.23,406.26 L358.87,406.9 L361.51,407.53 L364.15,408.16 L366.79,408.78 L369.42,409.4 L372.06,410.01 L374.7,410.63 L377.34,411.23 L379.98,411.84 L382.62,412.44 L385.25,413.03 L387.89,413.63 L390.53,414.22 L393.17,414.81 L395.81,415.39 L398.44,415.98 L401.08,416.56 L403.72,417.13 L406.36,417.71 L409,418.28 L411.64,418.85 L414.27,419.42 L416.91,419.98 L419.55,420.54 L422.19,421.1 L424.83,421.66 L427.47,422.21 L430.1,422.77 L432.74,423.31 L435.38,423.86 L438.02,424.4 L440.66,424.95 L443.29,425.48 L445.93,426.02 L448.57,426.55 L451.21,427.08 L453.85,427.61 L456.49,428.13 L459.12,428.66 L461.76,429.17 L464.4,429.69" stroke="#000" stroke-width="1.8" fill="none"/>
<path d="M259.5,396.62 L261.58,398.28 L263.65,399.88 L265.73,401.44 L267.8,402.94 L269.88,404.38 L271.95,405.78 L274.03,407.13 L276.1,408.44 L278.18,409.69 L280.25,410.91 L282.33,412.08 L284.4,413.22 L286.48,414.31 L288.55,415.37 L290.63,416.4 L292.7,417.4 L294.78,418.36 L296.86,419.3 L298.93,420.21 L301.01,421.1 L303.08,421.96 L305.16,422.8 L307.23,423.62 L309.31,424.43 L311.38,425.21 L313.46,425.98 L315.53,426.73 L317.61,427.47 L319.68,428.19 L321.76,428.91 L323.83,429.61 L325.91,430.3 L327.98,430.98 L330.06,431.65 L332.13,432.31 L334.21,432.97 L336.29,433.61 L338.36,434.25 L340.44,434.88 L342.51,435.51 L344.59,436.13 L346.66,436.75 L348.74,437.36 L350.81,437.96 L352.89,438.56 L354.96,439.16 L357.04,439.75 L359.11,440.34 L361.19,440.92 L363.26,441.51 L365.34,442.08 L367.41,442.66 L369.49,443.23 L371.57,443.79 L373.64,444.36 L375.72,444.92 L377.79,445.48 L379.87,446.03 L381.94,446.59 L384.02,447.14 L386.09,447.68 L388.17,448.23 L390.24,448.77 L392.32,449.31 L394.39,449.85 L396.47,450.38 L398.54,450.91 L400.62,451.44 L402.69,451.97 L404.77,452.49 L406.84,453.02 L408.92,453.53 L411,454.05 L413.07,454.56 L415.15,455.08 L417.22,455.58 L419.3,456.09 L421.37,456.59 L423.45,457.09 L425.52,457.59 L427.6,458.09 L429.67,458.58 L431.75,459.07 L433.82,459.55 L435.9,460.04 L437.97,460.52 L440.05,461 L442.12,461.47 L444.2,461.94" stroke="#000" stroke-width="1.8" fill="none"/>
<path d="M224,335.62 L226.7,342.96 L229.4,349.96 L232.1,356.59 L234.8,362.81 L237.51,368.61 L240.21,373.98 L242.91,378.92 L245.61,383.45 L248.31,387.59 L251.01,391.39 L253.71,394.89 L256.41,398.12 L259.11,401.13 L261.82,403.95 L264.52,406.61 L267.22,409.15 L269.92,411.59 L272.62,413.94 L275.32,416.23 L278.02,418.47 L280.72,420.66 L283.42,422.81 L286.13,424.94 L288.83,427.04 L291.53,429.13 L294.23,431.19 L296.93,433.25 L299.63,435.28 L302.33,437.31 L305.03,439.32 L307.73,441.33 L310.44,443.32 L313.14,445.3 L315.84,447.27 L318.54,449.23 L321.24,451.17 L323.94,453.11 L326.64,455.03 L329.34,456.93 L332.04,458.82 L334.75,460.7 L337.45,462.56 L340.15,464.4 L342.85,466.22 L345.55,468.03 L348.25,469.81 L350.95,471.58 L353.65,473.32 L356.36,475.03 L359.06,476.72 L361.76,478.39 L364.46,480.03 L367.16,481.64 L369.86,483.22 L372.56,484.76 L375.26,486.28 L377.96,487.77 L380.67,489.21 L383.37,490.63 L386.07,492.01 L388.77,493.35 L391.47,494.65 L394.17,495.92 L396.87,497.14 L399.57,498.33 L402.27,499.48 L404.98,500.58 L407.68,501.65 L410.38,502.68 L413.08,503.66 L415.78,504.61 L418.48,505.51 L421.18,506.38 L423.88,507.21 L426.58,508 L429.29,508.75 L431.99,509.46 L434.69,510.14 L437.39,510.79 L440.09,511.4 L442.79,511.97 L445.49,512.52 L448.19,513.04 L450.89,513.52 L453.6,513.98 L456.3,514.41 L459,514.82 L461.7,515.2 L464.4,515.56" stroke="#000" stroke-width="1.8" fill="none"/>
</g>
<rect x="211.8" y="316" width="252.6" height="205.3" fill="none" stroke="#000" stroke-width="1.4"/>
<path d="M283.9,521.3 v-3.4 M344.2,521.3 v-3.4 M404.5,521.3 v-3.4 M253.75,521.3 v-1.8 M314.05,521.3 v-1.8 M374.35,521.3 v-1.8 M434.65,521.3 v-1.8 M211.8,335 h3.4 M211.8,398.1 h3.4 M211.8,461.2 h3.4" stroke="#000" stroke-width="1.3" fill="none"/>
<g font-family='"Liberation Sans", sans-serif' font-weight="bold" font-size="12.2" fill="#000">
<text x="223.6" y="536.2" text-anchor="middle" font-size="13.2">0</text>
<text x="283.9" y="536.2" text-anchor="middle" font-size="13.2">10</text>
<text x="344.2" y="536.2" text-anchor="middle" font-size="13.2">20</text>
<text x="404.5" y="536.2" text-anchor="middle" font-size="13.2">30</text>
<text x="464.8" y="536.2" text-anchor="middle" font-size="13.2">40</text>
<text x="207.1" y="340" text-anchor="end" font-size="13">10<tspan font-size="8" dy="-8.3">0</tspan></text>
<text x="207.1" y="403.1" text-anchor="end" font-size="13">10<tspan font-size="8" dy="-8.3">-1</tspan></text>
<text x="207.1" y="466.2" text-anchor="end" font-size="13">10<tspan font-size="8" dy="-8.3">-2</tspan></text>
<text x="337.9" y="556.6" text-anchor="middle" font-size="14.9">Time (ns)</text>
</g>
<text transform="translate(171.5,415.6) rotate(-90)" text-anchor="middle" font-family='"Liberation Sans", sans-serif' font-size="15.7" fill="#111" stroke="#111" stroke-width="0.22">Normalized Intensity(a.u.)</text>
<g fill="none" stroke-width="0.9">
<rect x="357.4" y="322.8" width="5.2" height="5.2" stroke="#a0a0a0"/>
<circle cx="360" cy="340.6" r="3.3" stroke="#e25a5a"/>
<path d="M360,351.14 L363.7,357.58 L356.3,357.58 Z" stroke="#5555e6"/>
<path d="M360,367.1 L363.9,371 L360,374.9 L356.1,371 Z" stroke="#dd66dd"/>
</g>
<g font-family='"Liberation Sans", sans-serif' font-weight="bold" font-size="11.5" fill="#000">
<text x="373.5" y="329.5">PEA-0 PVSK</text>
<text x="373.5" y="344.7">PEA-3 PVSK</text>
<text x="373.5" y="359.9">PEA-8 PVSK</text>
<text x="373.5" y="375.1">PEA-16 PVSK</text>
</g>
<g font-family='"Liberation Serif", serif' font-size="17" fill="#111" stroke="#111" stroke-width="0.22">
<text x="143.4" y="286.6" text-anchor="middle">(a)</text>
<text x="481.4" y="286.6" text-anchor="middle">(b)</text>
<text x="312.8" y="586.4" text-anchor="middle">(c)</text>
</g>
</svg></body></html>
